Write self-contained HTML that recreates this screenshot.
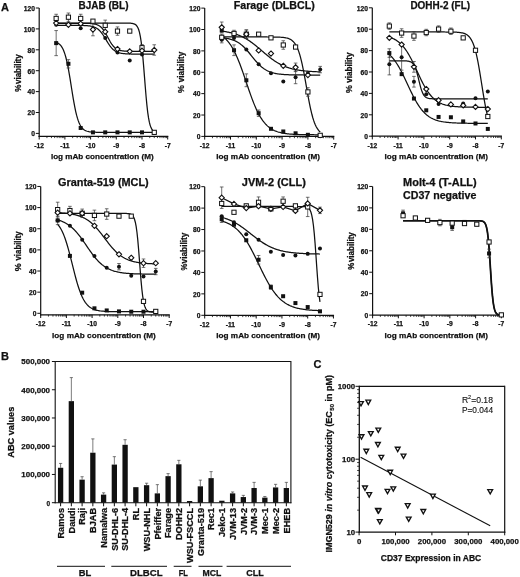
<!DOCTYPE html>
<html><head><meta charset="utf-8"><style>
html,body{margin:0;padding:0;background:#fff;}
svg{display:block;will-change:transform;}
text{font-family:"Liberation Sans", sans-serif;}
</style></head><body>
<svg width="520" height="577" viewBox="0 0 520 577">
<rect width="520" height="577" fill="#fff"/>
<text x="1" y="10.8" font-size="11" font-weight="bold" text-anchor="start" fill="#111" stroke="#111" stroke-width="0.25">A</text>
<text x="1" y="359.6" font-size="11" font-weight="bold" text-anchor="start" fill="#111" stroke="#111" stroke-width="0.25">B</text>
<text x="313.4" y="367.7" font-size="11" font-weight="bold" text-anchor="start" fill="#111" stroke="#111" stroke-width="0.25">C</text>
<line x1="39.2" y1="8" x2="39.2" y2="136.9" stroke="#111" stroke-width="1.2"/>
<line x1="38.6" y1="136.3" x2="168.3" y2="136.3" stroke="#111" stroke-width="1.2"/>
<line x1="35.8" y1="133.4" x2="39.2" y2="133.4" stroke="#111" stroke-width="1.0"/>
<text x="34.9" y="136.2" font-size="6.7" font-weight="bold" text-anchor="end" fill="#111" stroke="#111" stroke-width="0.25">0</text>
<line x1="35.8" y1="112.5" x2="39.2" y2="112.5" stroke="#111" stroke-width="1.0"/>
<text x="34.9" y="115.3" font-size="6.7" font-weight="bold" text-anchor="end" fill="#111" stroke="#111" stroke-width="0.25">20</text>
<line x1="35.8" y1="91.6" x2="39.2" y2="91.6" stroke="#111" stroke-width="1.0"/>
<text x="34.9" y="94.4" font-size="6.7" font-weight="bold" text-anchor="end" fill="#111" stroke="#111" stroke-width="0.25">40</text>
<line x1="35.8" y1="70.7" x2="39.2" y2="70.7" stroke="#111" stroke-width="1.0"/>
<text x="34.9" y="73.5" font-size="6.7" font-weight="bold" text-anchor="end" fill="#111" stroke="#111" stroke-width="0.25">60</text>
<line x1="35.8" y1="49.8" x2="39.2" y2="49.8" stroke="#111" stroke-width="1.0"/>
<text x="34.9" y="52.6" font-size="6.7" font-weight="bold" text-anchor="end" fill="#111" stroke="#111" stroke-width="0.25">80</text>
<line x1="35.8" y1="28.9" x2="39.2" y2="28.9" stroke="#111" stroke-width="1.0"/>
<text x="34.9" y="31.7" font-size="6.7" font-weight="bold" text-anchor="end" fill="#111" stroke="#111" stroke-width="0.25">100</text>
<line x1="35.8" y1="8" x2="39.2" y2="8" stroke="#111" stroke-width="1.0"/>
<text x="34.9" y="10.8" font-size="6.7" font-weight="bold" text-anchor="end" fill="#111" stroke="#111" stroke-width="0.25">120</text>
<line x1="39.2" y1="136.3" x2="39.2" y2="139.5" stroke="#111" stroke-width="1.0"/>
<text x="39.2" y="148" font-size="6.7" font-weight="bold" text-anchor="middle" fill="#111" stroke="#111" stroke-width="0.25">-12</text>
<line x1="46.94" y1="136.3" x2="46.94" y2="138.1" stroke="#111" stroke-width="0.8"/>
<line x1="51.46" y1="136.3" x2="51.46" y2="138.1" stroke="#111" stroke-width="0.8"/>
<line x1="54.67" y1="136.3" x2="54.67" y2="138.1" stroke="#111" stroke-width="0.8"/>
<line x1="57.16" y1="136.3" x2="57.16" y2="138.1" stroke="#111" stroke-width="0.8"/>
<line x1="59.2" y1="136.3" x2="59.2" y2="138.1" stroke="#111" stroke-width="0.8"/>
<line x1="60.92" y1="136.3" x2="60.92" y2="138.1" stroke="#111" stroke-width="0.8"/>
<line x1="62.41" y1="136.3" x2="62.41" y2="138.1" stroke="#111" stroke-width="0.8"/>
<line x1="63.72" y1="136.3" x2="63.72" y2="138.1" stroke="#111" stroke-width="0.8"/>
<line x1="64.9" y1="136.3" x2="64.9" y2="139.5" stroke="#111" stroke-width="1.0"/>
<text x="64.9" y="148" font-size="6.7" font-weight="bold" text-anchor="middle" fill="#111" stroke="#111" stroke-width="0.25">-11</text>
<line x1="72.64" y1="136.3" x2="72.64" y2="138.1" stroke="#111" stroke-width="0.8"/>
<line x1="77.16" y1="136.3" x2="77.16" y2="138.1" stroke="#111" stroke-width="0.8"/>
<line x1="80.37" y1="136.3" x2="80.37" y2="138.1" stroke="#111" stroke-width="0.8"/>
<line x1="82.86" y1="136.3" x2="82.86" y2="138.1" stroke="#111" stroke-width="0.8"/>
<line x1="84.9" y1="136.3" x2="84.9" y2="138.1" stroke="#111" stroke-width="0.8"/>
<line x1="86.62" y1="136.3" x2="86.62" y2="138.1" stroke="#111" stroke-width="0.8"/>
<line x1="88.11" y1="136.3" x2="88.11" y2="138.1" stroke="#111" stroke-width="0.8"/>
<line x1="89.42" y1="136.3" x2="89.42" y2="138.1" stroke="#111" stroke-width="0.8"/>
<line x1="90.6" y1="136.3" x2="90.6" y2="139.5" stroke="#111" stroke-width="1.0"/>
<text x="90.6" y="148" font-size="6.7" font-weight="bold" text-anchor="middle" fill="#111" stroke="#111" stroke-width="0.25">-10</text>
<line x1="98.34" y1="136.3" x2="98.34" y2="138.1" stroke="#111" stroke-width="0.8"/>
<line x1="102.86" y1="136.3" x2="102.86" y2="138.1" stroke="#111" stroke-width="0.8"/>
<line x1="106.07" y1="136.3" x2="106.07" y2="138.1" stroke="#111" stroke-width="0.8"/>
<line x1="108.56" y1="136.3" x2="108.56" y2="138.1" stroke="#111" stroke-width="0.8"/>
<line x1="110.6" y1="136.3" x2="110.6" y2="138.1" stroke="#111" stroke-width="0.8"/>
<line x1="112.32" y1="136.3" x2="112.32" y2="138.1" stroke="#111" stroke-width="0.8"/>
<line x1="113.81" y1="136.3" x2="113.81" y2="138.1" stroke="#111" stroke-width="0.8"/>
<line x1="115.12" y1="136.3" x2="115.12" y2="138.1" stroke="#111" stroke-width="0.8"/>
<line x1="116.3" y1="136.3" x2="116.3" y2="139.5" stroke="#111" stroke-width="1.0"/>
<text x="116.3" y="148" font-size="6.7" font-weight="bold" text-anchor="middle" fill="#111" stroke="#111" stroke-width="0.25">-9</text>
<line x1="124.04" y1="136.3" x2="124.04" y2="138.1" stroke="#111" stroke-width="0.8"/>
<line x1="128.56" y1="136.3" x2="128.56" y2="138.1" stroke="#111" stroke-width="0.8"/>
<line x1="131.77" y1="136.3" x2="131.77" y2="138.1" stroke="#111" stroke-width="0.8"/>
<line x1="134.26" y1="136.3" x2="134.26" y2="138.1" stroke="#111" stroke-width="0.8"/>
<line x1="136.3" y1="136.3" x2="136.3" y2="138.1" stroke="#111" stroke-width="0.8"/>
<line x1="138.02" y1="136.3" x2="138.02" y2="138.1" stroke="#111" stroke-width="0.8"/>
<line x1="139.51" y1="136.3" x2="139.51" y2="138.1" stroke="#111" stroke-width="0.8"/>
<line x1="140.82" y1="136.3" x2="140.82" y2="138.1" stroke="#111" stroke-width="0.8"/>
<line x1="142" y1="136.3" x2="142" y2="139.5" stroke="#111" stroke-width="1.0"/>
<text x="142" y="148" font-size="6.7" font-weight="bold" text-anchor="middle" fill="#111" stroke="#111" stroke-width="0.25">-8</text>
<line x1="149.74" y1="136.3" x2="149.74" y2="138.1" stroke="#111" stroke-width="0.8"/>
<line x1="154.26" y1="136.3" x2="154.26" y2="138.1" stroke="#111" stroke-width="0.8"/>
<line x1="157.47" y1="136.3" x2="157.47" y2="138.1" stroke="#111" stroke-width="0.8"/>
<line x1="159.96" y1="136.3" x2="159.96" y2="138.1" stroke="#111" stroke-width="0.8"/>
<line x1="162" y1="136.3" x2="162" y2="138.1" stroke="#111" stroke-width="0.8"/>
<line x1="163.72" y1="136.3" x2="163.72" y2="138.1" stroke="#111" stroke-width="0.8"/>
<line x1="165.21" y1="136.3" x2="165.21" y2="138.1" stroke="#111" stroke-width="0.8"/>
<line x1="166.52" y1="136.3" x2="166.52" y2="138.1" stroke="#111" stroke-width="0.8"/>
<line x1="167.7" y1="136.3" x2="167.7" y2="139.5" stroke="#111" stroke-width="1.0"/>
<text x="167.7" y="148" font-size="6.7" font-weight="bold" text-anchor="middle" fill="#111" stroke="#111" stroke-width="0.25">-7</text>
<text x="103.5" y="8.8" font-size="10.0" font-weight="bold" text-anchor="middle" fill="#111" textLength="50" lengthAdjust="spacingAndGlyphs" stroke="#111" stroke-width="0.25">BJAB (BL)</text>
<text x="102.25" y="158.7" font-size="7.8" font-weight="bold" text-anchor="middle" fill="#111" textLength="102.7" lengthAdjust="spacingAndGlyphs" stroke="#111" stroke-width="0.25">log mAb concentration (M)</text>
<text x="21.1" y="69.15" font-size="8.3" font-weight="bold" text-anchor="middle" fill="#111" textLength="29.7" lengthAdjust="spacingAndGlyphs" transform="rotate(-90 21.1 69.15)" stroke="#111" stroke-width="0.25">viability</text>
<text x="21.1" y="88.25" font-size="8.3" font-weight="bold" text-anchor="middle" fill="#111" textLength="7.2" lengthAdjust="spacingAndGlyphs" transform="rotate(-90 21.1 88.25)" stroke="#111" stroke-width="0.25">%</text>
<path d="M56.16 23.05 L56.98 23.05 L57.8 23.05 L58.61 23.05 L59.43 23.05 L60.25 23.05 L61.07 23.05 L61.88 23.05 L62.7 23.05 L63.52 23.05 L64.34 23.05 L65.15 23.05 L65.97 23.05 L66.79 23.05 L67.61 23.05 L68.42 23.05 L69.24 23.05 L70.06 23.05 L70.88 23.05 L71.69 23.05 L72.51 23.05 L73.33 23.05 L74.15 23.05 L74.96 23.05 L75.78 23.05 L76.6 23.05 L77.42 23.05 L78.23 23.05 L79.05 23.05 L79.87 23.05 L80.69 23.05 L81.5 23.05 L82.32 23.05 L83.14 23.05 L83.96 23.05 L84.77 23.05 L85.59 23.05 L86.41 23.05 L87.23 23.05 L88.04 23.05 L88.86 23.05 L89.68 23.05 L90.5 23.05 L91.31 23.05 L92.13 23.05 L92.95 23.05 L93.77 23.05 L94.58 23.05 L95.4 23.05 L96.22 23.05 L97.04 23.05 L97.85 23.05 L98.67 23.05 L99.49 23.05 L100.31 23.05 L101.12 23.05 L101.94 23.05 L102.76 23.05 L103.58 23.05 L104.39 23.05 L105.21 23.05 L106.03 23.05 L106.85 23.05 L107.66 23.05 L108.48 23.05 L109.3 23.05 L110.12 23.05 L110.93 23.05 L111.75 23.05 L112.57 23.05 L113.39 23.05 L114.2 23.05 L115.02 23.05 L115.84 23.05 L116.66 23.05 L117.47 23.05 L118.29 23.05 L119.11 23.05 L119.92 23.05 L120.74 23.05 L121.56 23.05 L122.38 23.05 L123.19 23.05 L124.01 23.06 L124.83 23.06 L125.65 23.06 L126.46 23.07 L127.28 23.08 L128.1 23.1 L128.92 23.12 L129.73 23.16 L130.55 23.21 L131.37 23.28 L132.19 23.39 L133 23.55 L133.82 23.78 L134.64 24.11 L135.46 24.6 L136.27 25.3 L137.09 26.32 L137.91 27.77 L138.73 29.82 L139.54 32.69 L140.36 36.6 L141.18 41.81 L142 48.49 L142.81 56.68 L143.63 66.15 L144.45 76.42 L145.27 86.8 L146.08 96.57 L146.9 105.17 L147.72 112.3 L148.54 117.93 L149.35 122.2 L150.17 125.35 L150.99 127.62 L151.81 129.23 L152.62 130.36 L153.44 131.14 L154.26 131.69" fill="none" stroke="#111" stroke-width="1.25"/>
<path d="M56.16 25.35 L56.98 25.35 L57.8 25.35 L58.61 25.35 L59.43 25.35 L60.25 25.35 L61.07 25.35 L61.88 25.35 L62.7 25.35 L63.52 25.35 L64.34 25.35 L65.15 25.35 L65.97 25.35 L66.79 25.35 L67.61 25.35 L68.42 25.35 L69.24 25.35 L70.06 25.35 L70.88 25.35 L71.69 25.36 L72.51 25.36 L73.33 25.36 L74.15 25.36 L74.96 25.37 L75.78 25.37 L76.6 25.38 L77.42 25.38 L78.23 25.39 L79.05 25.4 L79.87 25.41 L80.69 25.43 L81.5 25.44 L82.32 25.46 L83.14 25.49 L83.96 25.51 L84.77 25.55 L85.59 25.59 L86.41 25.64 L87.23 25.7 L88.04 25.78 L88.86 25.87 L89.68 25.97 L90.5 26.1 L91.31 26.25 L92.13 26.43 L92.95 26.65 L93.77 26.91 L94.58 27.22 L95.4 27.58 L96.22 28.01 L97.04 28.5 L97.85 29.08 L98.67 29.74 L99.49 30.5 L100.31 31.35 L101.12 32.31 L101.94 33.36 L102.76 34.5 L103.58 35.73 L104.39 37.02 L105.21 38.36 L106.03 39.73 L106.85 41.09 L107.66 42.43 L108.48 43.72 L109.3 44.95 L110.12 46.09 L110.93 47.14 L111.75 48.1 L112.57 48.95 L113.39 49.7 L114.2 50.37 L115.02 50.94 L115.84 51.43 L116.66 51.86 L117.47 52.22 L118.29 52.53 L119.11 52.78 L119.92 53 L120.74 53.18 L121.56 53.33 L122.38 53.46 L123.19 53.57 L124.01 53.66 L124.83 53.73 L125.65 53.79 L126.46 53.84 L127.28 53.88 L128.1 53.92 L128.92 53.95 L129.73 53.97 L130.55 53.99 L131.37 54.01 L132.19 54.02 L133 54.03 L133.82 54.04 L134.64 54.05 L135.46 54.05 L136.27 54.06 L137.09 54.06 L137.91 54.07 L138.73 54.07 L139.54 54.07 L140.36 54.07 L141.18 54.08 L142 54.08 L142.81 54.08 L143.63 54.08 L144.45 54.08 L145.27 54.08 L146.08 54.08 L146.9 54.08 L147.72 54.08 L148.54 54.08 L149.35 54.08 L150.17 54.08 L150.99 54.08 L151.81 54.08 L152.62 54.08 L153.44 54.08 L154.26 54.08" fill="none" stroke="#111" stroke-width="1.25"/>
<path d="M56.16 23.26 L56.98 23.26 L57.8 23.26 L58.61 23.26 L59.43 23.26 L60.25 23.26 L61.07 23.26 L61.88 23.26 L62.7 23.26 L63.52 23.26 L64.34 23.26 L65.15 23.26 L65.97 23.26 L66.79 23.26 L67.61 23.26 L68.42 23.26 L69.24 23.26 L70.06 23.26 L70.88 23.26 L71.69 23.26 L72.51 23.26 L73.33 23.26 L74.15 23.26 L74.96 23.26 L75.78 23.26 L76.6 23.26 L77.42 23.26 L78.23 23.27 L79.05 23.27 L79.87 23.27 L80.69 23.28 L81.5 23.28 L82.32 23.29 L83.14 23.29 L83.96 23.3 L84.77 23.31 L85.59 23.33 L86.41 23.35 L87.23 23.37 L88.04 23.39 L88.86 23.43 L89.68 23.47 L90.5 23.52 L91.31 23.59 L92.13 23.67 L92.95 23.76 L93.77 23.89 L94.58 24.04 L95.4 24.22 L96.22 24.45 L97.04 24.73 L97.85 25.06 L98.67 25.47 L99.49 25.96 L100.31 26.55 L101.12 27.25 L101.94 28.06 L102.76 29 L103.58 30.07 L104.39 31.26 L105.21 32.58 L106.03 33.99 L106.85 35.48 L107.66 37.02 L108.48 38.56 L109.3 40.07 L110.12 41.52 L110.93 42.87 L111.75 44.12 L112.57 45.23 L113.39 46.22 L114.2 47.08 L115.02 47.82 L115.84 48.45 L116.66 48.98 L117.47 49.41 L118.29 49.78 L119.11 50.08 L119.92 50.32 L120.74 50.52 L121.56 50.68 L122.38 50.82 L123.19 50.92 L124.01 51.01 L124.83 51.08 L125.65 51.14 L126.46 51.18 L127.28 51.22 L128.1 51.25 L128.92 51.27 L129.73 51.29 L130.55 51.31 L131.37 51.32 L132.19 51.33 L133 51.34 L133.82 51.34 L134.64 51.35 L135.46 51.35 L136.27 51.35 L137.09 51.36 L137.91 51.36 L138.73 51.36 L139.54 51.36 L140.36 51.36 L141.18 51.36 L142 51.36 L142.81 51.37 L143.63 51.37 L144.45 51.37 L145.27 51.37 L146.08 51.37 L146.9 51.37 L147.72 51.37 L148.54 51.37 L149.35 51.37 L150.17 51.37 L150.99 51.37 L151.81 51.37 L152.62 51.37 L153.44 51.37 L154.26 51.37" fill="none" stroke="#111" stroke-width="1.25"/>
<path d="M56.16 42.25 L56.98 42.59 L57.8 43 L58.61 43.52 L59.43 44.16 L60.25 44.95 L61.07 45.92 L61.88 47.11 L62.7 48.56 L63.52 50.3 L64.34 52.4 L65.15 54.88 L65.97 57.78 L66.79 61.13 L67.61 64.92 L68.42 69.15 L69.24 73.77 L70.06 78.68 L70.88 83.79 L71.69 88.98 L72.51 94.1 L73.33 99.04 L74.15 103.69 L74.96 107.96 L75.78 111.8 L76.6 115.19 L77.42 118.13 L78.23 120.65 L79.05 122.78 L79.87 124.56 L80.69 126.03 L81.5 127.25 L82.32 128.24 L83.14 129.04 L83.96 129.7 L84.77 130.22 L85.59 130.65 L86.41 130.99 L87.23 131.26 L88.04 131.48 L88.86 131.66 L89.68 131.8 L90.5 131.91 L91.31 132 L92.13 132.07 L92.95 132.13 L93.77 132.18 L94.58 132.21 L95.4 132.24 L96.22 132.26 L97.04 132.28 L97.85 132.3 L98.67 132.31 L99.49 132.32 L100.31 132.33 L101.12 132.33 L101.94 132.34 L102.76 132.34 L103.58 132.34 L104.39 132.35 L105.21 132.35 L106.03 132.35 L106.85 132.35 L107.66 132.35 L108.48 132.35 L109.3 132.35 L110.12 132.35 L110.93 132.35 L111.75 132.35 L112.57 132.35 L113.39 132.35 L114.2 132.35 L115.02 132.35 L115.84 132.35 L116.66 132.35 L117.47 132.35 L118.29 132.35 L119.11 132.35 L119.92 132.35 L120.74 132.35 L121.56 132.35 L122.38 132.35 L123.19 132.35 L124.01 132.35 L124.83 132.35 L125.65 132.35 L126.46 132.35 L127.28 132.35 L128.1 132.35 L128.92 132.35 L129.73 132.35 L130.55 132.35 L131.37 132.35 L132.19 132.35 L133 132.35 L133.82 132.35 L134.64 132.35 L135.46 132.35 L136.27 132.35 L137.09 132.35 L137.91 132.35 L138.73 132.35 L139.54 132.35 L140.36 132.35 L141.18 132.35 L142 132.35 L142.81 132.35 L143.63 132.35 L144.45 132.35 L145.27 132.35 L146.08 132.35 L146.9 132.35 L147.72 132.35 L148.54 132.35 L149.35 132.35 L150.17 132.35 L150.99 132.35 L151.81 132.35 L152.62 132.35 L153.44 132.35 L154.26 132.35" fill="none" stroke="#111" stroke-width="1.25"/>
<line x1="56.16" y1="14.27" x2="56.16" y2="22.63" stroke="#333" stroke-width="0.7"/>
<line x1="54.36" y1="14.27" x2="57.96" y2="14.27" stroke="#333" stroke-width="0.7"/>
<line x1="54.36" y1="22.63" x2="57.96" y2="22.63" stroke="#333" stroke-width="0.7"/>
<line x1="68.42" y1="13.02" x2="68.42" y2="21.38" stroke="#333" stroke-width="0.7"/>
<line x1="66.62" y1="13.02" x2="70.22" y2="13.02" stroke="#333" stroke-width="0.7"/>
<line x1="66.62" y1="21.38" x2="70.22" y2="21.38" stroke="#333" stroke-width="0.7"/>
<line x1="80.68" y1="14.27" x2="80.68" y2="22.63" stroke="#333" stroke-width="0.7"/>
<line x1="78.88" y1="14.27" x2="82.48" y2="14.27" stroke="#333" stroke-width="0.7"/>
<line x1="78.88" y1="22.63" x2="82.48" y2="22.63" stroke="#333" stroke-width="0.7"/>
<line x1="105.22" y1="20.12" x2="105.22" y2="30.57" stroke="#333" stroke-width="0.7"/>
<line x1="103.42" y1="20.12" x2="107.02" y2="20.12" stroke="#333" stroke-width="0.7"/>
<line x1="103.42" y1="30.57" x2="107.02" y2="30.57" stroke="#333" stroke-width="0.7"/>
<line x1="117.48" y1="26.91" x2="117.48" y2="35.27" stroke="#333" stroke-width="0.7"/>
<line x1="115.68" y1="26.91" x2="119.28" y2="26.91" stroke="#333" stroke-width="0.7"/>
<line x1="115.68" y1="35.27" x2="119.28" y2="35.27" stroke="#333" stroke-width="0.7"/>
<line x1="142" y1="44.58" x2="142" y2="50.85" stroke="#333" stroke-width="0.7"/>
<line x1="140.2" y1="44.58" x2="143.8" y2="44.58" stroke="#333" stroke-width="0.7"/>
<line x1="140.2" y1="50.85" x2="143.8" y2="50.85" stroke="#333" stroke-width="0.7"/>
<line x1="92.94" y1="23.26" x2="92.94" y2="35.8" stroke="#333" stroke-width="0.7"/>
<line x1="91.14" y1="23.26" x2="94.74" y2="23.26" stroke="#333" stroke-width="0.7"/>
<line x1="91.14" y1="35.8" x2="94.74" y2="35.8" stroke="#333" stroke-width="0.7"/>
<line x1="154.26" y1="44.78" x2="154.26" y2="55.23" stroke="#333" stroke-width="0.7"/>
<line x1="152.46" y1="44.78" x2="156.06" y2="44.78" stroke="#333" stroke-width="0.7"/>
<line x1="152.46" y1="55.23" x2="156.06" y2="55.23" stroke="#333" stroke-width="0.7"/>
<line x1="56.16" y1="30.57" x2="56.16" y2="55.65" stroke="#333" stroke-width="0.7"/>
<line x1="54.36" y1="30.57" x2="57.96" y2="30.57" stroke="#333" stroke-width="0.7"/>
<line x1="54.36" y1="55.65" x2="57.96" y2="55.65" stroke="#333" stroke-width="0.7"/>
<line x1="68.42" y1="59.62" x2="68.42" y2="67.98" stroke="#333" stroke-width="0.7"/>
<line x1="66.62" y1="59.62" x2="70.22" y2="59.62" stroke="#333" stroke-width="0.7"/>
<line x1="66.62" y1="67.98" x2="70.22" y2="67.98" stroke="#333" stroke-width="0.7"/>
<rect x="54.16" y="41.11" width="4.0" height="4.0" fill="#111"/>
<rect x="66.42" y="61.8" width="4.0" height="4.0" fill="#111"/>
<rect x="78.68" y="125.97" width="4.0" height="4.0" fill="#111"/>
<rect x="90.94" y="130.36" width="4.0" height="4.0" fill="#111"/>
<rect x="103.22" y="130.36" width="4.0" height="4.0" fill="#111"/>
<rect x="115.48" y="130.36" width="4.0" height="4.0" fill="#111"/>
<rect x="127.74" y="130.36" width="4.0" height="4.0" fill="#111"/>
<rect x="140" y="130.36" width="4.0" height="4.0" fill="#111"/>
<rect x="152.26" y="130.36" width="4.0" height="4.0" fill="#111"/>
<circle cx="56.16" cy="24.72" r="2.0" fill="#111"/>
<circle cx="68.42" cy="24.72" r="2.0" fill="#111"/>
<circle cx="80.68" cy="28.27" r="2.0" fill="#111"/>
<circle cx="92.94" cy="28.9" r="2.0" fill="#111"/>
<circle cx="105.22" cy="37.99" r="2.0" fill="#111"/>
<circle cx="117.48" cy="52.52" r="2.0" fill="#111"/>
<circle cx="129.74" cy="60.56" r="2.0" fill="#111"/>
<circle cx="142" cy="54.61" r="2.0" fill="#111"/>
<rect x="54.06" y="16.35" width="4.2" height="4.2" fill="#fff" stroke="#111" stroke-width="1"/>
<rect x="66.32" y="15.1" width="4.2" height="4.2" fill="#fff" stroke="#111" stroke-width="1"/>
<rect x="78.58" y="16.35" width="4.2" height="4.2" fill="#fff" stroke="#111" stroke-width="1"/>
<rect x="90.84" y="19.07" width="4.2" height="4.2" fill="#fff" stroke="#111" stroke-width="1"/>
<rect x="103.12" y="23.25" width="4.2" height="4.2" fill="#fff" stroke="#111" stroke-width="1"/>
<rect x="115.38" y="28.99" width="4.2" height="4.2" fill="#fff" stroke="#111" stroke-width="1"/>
<rect x="127.64" y="28.99" width="4.2" height="4.2" fill="#fff" stroke="#111" stroke-width="1"/>
<rect x="139.9" y="45.61" width="4.2" height="4.2" fill="#fff" stroke="#111" stroke-width="1"/>
<rect x="152.16" y="130.26" width="4.2" height="4.2" fill="#fff" stroke="#111" stroke-width="1"/>
<path d="M56.16 20.45L58.76 23.05L56.16 25.65L53.56 23.05Z" fill="#fff" stroke="#111" stroke-width="1.1"/>
<path d="M68.42 22.22L71.02 24.82L68.42 27.42L65.82 24.82Z" fill="#fff" stroke="#111" stroke-width="1.1"/>
<path d="M80.68 21.08L83.28 23.68L80.68 26.28L78.08 23.68Z" fill="#fff" stroke="#111" stroke-width="1.1"/>
<path d="M92.94 26.93L95.54 29.53L92.94 32.13L90.34 29.53Z" fill="#fff" stroke="#111" stroke-width="1.1"/>
<path d="M105.22 29.23L107.82 31.83L105.22 34.43L102.62 31.83Z" fill="#fff" stroke="#111" stroke-width="1.1"/>
<path d="M117.48 46.47L120.08 49.07L117.48 51.67L114.88 49.07Z" fill="#fff" stroke="#111" stroke-width="1.1"/>
<path d="M129.74 48.77L132.34 51.37L129.74 53.97L127.14 51.37Z" fill="#fff" stroke="#111" stroke-width="1.1"/>
<path d="M142 48.14L144.6 50.74L142 53.34L139.4 50.74Z" fill="#fff" stroke="#111" stroke-width="1.1"/>
<path d="M154.26 47.41L156.86 50.01L154.26 52.61L151.66 50.01Z" fill="#fff" stroke="#111" stroke-width="1.1"/>
<line x1="204.7" y1="8.12" x2="204.7" y2="137" stroke="#111" stroke-width="1.2"/>
<line x1="204.1" y1="136.4" x2="334.3" y2="136.4" stroke="#111" stroke-width="1.2"/>
<line x1="201.3" y1="136.4" x2="204.7" y2="136.4" stroke="#111" stroke-width="1.0"/>
<text x="200.4" y="139.2" font-size="6.7" font-weight="bold" text-anchor="end" fill="#111" stroke="#111" stroke-width="0.25">0</text>
<line x1="201.3" y1="115.02" x2="204.7" y2="115.02" stroke="#111" stroke-width="1.0"/>
<text x="200.4" y="117.82" font-size="6.7" font-weight="bold" text-anchor="end" fill="#111" stroke="#111" stroke-width="0.25">20</text>
<line x1="201.3" y1="93.64" x2="204.7" y2="93.64" stroke="#111" stroke-width="1.0"/>
<text x="200.4" y="96.44" font-size="6.7" font-weight="bold" text-anchor="end" fill="#111" stroke="#111" stroke-width="0.25">40</text>
<line x1="201.3" y1="72.26" x2="204.7" y2="72.26" stroke="#111" stroke-width="1.0"/>
<text x="200.4" y="75.06" font-size="6.7" font-weight="bold" text-anchor="end" fill="#111" stroke="#111" stroke-width="0.25">60</text>
<line x1="201.3" y1="50.88" x2="204.7" y2="50.88" stroke="#111" stroke-width="1.0"/>
<text x="200.4" y="53.68" font-size="6.7" font-weight="bold" text-anchor="end" fill="#111" stroke="#111" stroke-width="0.25">80</text>
<line x1="201.3" y1="29.5" x2="204.7" y2="29.5" stroke="#111" stroke-width="1.0"/>
<text x="200.4" y="32.3" font-size="6.7" font-weight="bold" text-anchor="end" fill="#111" stroke="#111" stroke-width="0.25">100</text>
<line x1="201.3" y1="8.12" x2="204.7" y2="8.12" stroke="#111" stroke-width="1.0"/>
<text x="200.4" y="10.92" font-size="6.7" font-weight="bold" text-anchor="end" fill="#111" stroke="#111" stroke-width="0.25">120</text>
<line x1="204.7" y1="136.4" x2="204.7" y2="139.6" stroke="#111" stroke-width="1.0"/>
<text x="204.7" y="148.1" font-size="6.7" font-weight="bold" text-anchor="middle" fill="#111" stroke="#111" stroke-width="0.25">-12</text>
<line x1="212.47" y1="136.4" x2="212.47" y2="138.2" stroke="#111" stroke-width="0.8"/>
<line x1="217.01" y1="136.4" x2="217.01" y2="138.2" stroke="#111" stroke-width="0.8"/>
<line x1="220.23" y1="136.4" x2="220.23" y2="138.2" stroke="#111" stroke-width="0.8"/>
<line x1="222.73" y1="136.4" x2="222.73" y2="138.2" stroke="#111" stroke-width="0.8"/>
<line x1="224.78" y1="136.4" x2="224.78" y2="138.2" stroke="#111" stroke-width="0.8"/>
<line x1="226.5" y1="136.4" x2="226.5" y2="138.2" stroke="#111" stroke-width="0.8"/>
<line x1="228" y1="136.4" x2="228" y2="138.2" stroke="#111" stroke-width="0.8"/>
<line x1="229.32" y1="136.4" x2="229.32" y2="138.2" stroke="#111" stroke-width="0.8"/>
<line x1="230.5" y1="136.4" x2="230.5" y2="139.6" stroke="#111" stroke-width="1.0"/>
<text x="230.5" y="148.1" font-size="6.7" font-weight="bold" text-anchor="middle" fill="#111" stroke="#111" stroke-width="0.25">-11</text>
<line x1="238.27" y1="136.4" x2="238.27" y2="138.2" stroke="#111" stroke-width="0.8"/>
<line x1="242.81" y1="136.4" x2="242.81" y2="138.2" stroke="#111" stroke-width="0.8"/>
<line x1="246.03" y1="136.4" x2="246.03" y2="138.2" stroke="#111" stroke-width="0.8"/>
<line x1="248.53" y1="136.4" x2="248.53" y2="138.2" stroke="#111" stroke-width="0.8"/>
<line x1="250.58" y1="136.4" x2="250.58" y2="138.2" stroke="#111" stroke-width="0.8"/>
<line x1="252.3" y1="136.4" x2="252.3" y2="138.2" stroke="#111" stroke-width="0.8"/>
<line x1="253.8" y1="136.4" x2="253.8" y2="138.2" stroke="#111" stroke-width="0.8"/>
<line x1="255.12" y1="136.4" x2="255.12" y2="138.2" stroke="#111" stroke-width="0.8"/>
<line x1="256.3" y1="136.4" x2="256.3" y2="139.6" stroke="#111" stroke-width="1.0"/>
<text x="256.3" y="148.1" font-size="6.7" font-weight="bold" text-anchor="middle" fill="#111" stroke="#111" stroke-width="0.25">-10</text>
<line x1="264.07" y1="136.4" x2="264.07" y2="138.2" stroke="#111" stroke-width="0.8"/>
<line x1="268.61" y1="136.4" x2="268.61" y2="138.2" stroke="#111" stroke-width="0.8"/>
<line x1="271.83" y1="136.4" x2="271.83" y2="138.2" stroke="#111" stroke-width="0.8"/>
<line x1="274.33" y1="136.4" x2="274.33" y2="138.2" stroke="#111" stroke-width="0.8"/>
<line x1="276.38" y1="136.4" x2="276.38" y2="138.2" stroke="#111" stroke-width="0.8"/>
<line x1="278.1" y1="136.4" x2="278.1" y2="138.2" stroke="#111" stroke-width="0.8"/>
<line x1="279.6" y1="136.4" x2="279.6" y2="138.2" stroke="#111" stroke-width="0.8"/>
<line x1="280.92" y1="136.4" x2="280.92" y2="138.2" stroke="#111" stroke-width="0.8"/>
<line x1="282.1" y1="136.4" x2="282.1" y2="139.6" stroke="#111" stroke-width="1.0"/>
<text x="282.1" y="148.1" font-size="6.7" font-weight="bold" text-anchor="middle" fill="#111" stroke="#111" stroke-width="0.25">-9</text>
<line x1="289.87" y1="136.4" x2="289.87" y2="138.2" stroke="#111" stroke-width="0.8"/>
<line x1="294.41" y1="136.4" x2="294.41" y2="138.2" stroke="#111" stroke-width="0.8"/>
<line x1="297.63" y1="136.4" x2="297.63" y2="138.2" stroke="#111" stroke-width="0.8"/>
<line x1="300.13" y1="136.4" x2="300.13" y2="138.2" stroke="#111" stroke-width="0.8"/>
<line x1="302.18" y1="136.4" x2="302.18" y2="138.2" stroke="#111" stroke-width="0.8"/>
<line x1="303.9" y1="136.4" x2="303.9" y2="138.2" stroke="#111" stroke-width="0.8"/>
<line x1="305.4" y1="136.4" x2="305.4" y2="138.2" stroke="#111" stroke-width="0.8"/>
<line x1="306.72" y1="136.4" x2="306.72" y2="138.2" stroke="#111" stroke-width="0.8"/>
<line x1="307.9" y1="136.4" x2="307.9" y2="139.6" stroke="#111" stroke-width="1.0"/>
<text x="307.9" y="148.1" font-size="6.7" font-weight="bold" text-anchor="middle" fill="#111" stroke="#111" stroke-width="0.25">-8</text>
<line x1="315.67" y1="136.4" x2="315.67" y2="138.2" stroke="#111" stroke-width="0.8"/>
<line x1="320.21" y1="136.4" x2="320.21" y2="138.2" stroke="#111" stroke-width="0.8"/>
<line x1="323.43" y1="136.4" x2="323.43" y2="138.2" stroke="#111" stroke-width="0.8"/>
<line x1="325.93" y1="136.4" x2="325.93" y2="138.2" stroke="#111" stroke-width="0.8"/>
<line x1="327.98" y1="136.4" x2="327.98" y2="138.2" stroke="#111" stroke-width="0.8"/>
<line x1="329.7" y1="136.4" x2="329.7" y2="138.2" stroke="#111" stroke-width="0.8"/>
<line x1="331.2" y1="136.4" x2="331.2" y2="138.2" stroke="#111" stroke-width="0.8"/>
<line x1="332.52" y1="136.4" x2="332.52" y2="138.2" stroke="#111" stroke-width="0.8"/>
<line x1="333.7" y1="136.4" x2="333.7" y2="139.6" stroke="#111" stroke-width="1.0"/>
<text x="333.7" y="148.1" font-size="6.7" font-weight="bold" text-anchor="middle" fill="#111" stroke="#111" stroke-width="0.25">-7</text>
<text x="274.3" y="8.7" font-size="10.0" font-weight="bold" text-anchor="middle" fill="#111" textLength="81" lengthAdjust="spacingAndGlyphs" stroke="#111" stroke-width="0.25">Farage (DLBCL)</text>
<text x="268.15" y="158.7" font-size="7.8" font-weight="bold" text-anchor="middle" fill="#111" textLength="103.7" lengthAdjust="spacingAndGlyphs" stroke="#111" stroke-width="0.25">log mAb concentration (M)</text>
<text x="184.4" y="67" font-size="8.3" font-weight="bold" text-anchor="middle" fill="#111" textLength="30.4" lengthAdjust="spacingAndGlyphs" transform="rotate(-90 184.4 67)" stroke="#111" stroke-width="0.25">viability</text>
<text x="184.4" y="89.15" font-size="8.3" font-weight="bold" text-anchor="middle" fill="#111" textLength="7.8" lengthAdjust="spacingAndGlyphs" transform="rotate(-90 184.4 89.15)" stroke="#111" stroke-width="0.25">%</text>
<path d="M221.73 36.98 L222.55 36.98 L223.37 36.98 L224.19 36.98 L225.01 36.98 L225.83 36.98 L226.65 36.98 L227.47 36.98 L228.29 36.98 L229.11 36.98 L229.93 36.98 L230.76 36.98 L231.58 36.98 L232.4 36.98 L233.22 36.98 L234.04 36.98 L234.86 36.98 L235.68 36.98 L236.5 36.98 L237.32 36.98 L238.14 36.98 L238.96 36.98 L239.78 36.98 L240.6 36.98 L241.42 36.98 L242.24 36.98 L243.07 36.98 L243.89 36.98 L244.71 36.98 L245.53 36.98 L246.35 36.98 L247.17 36.98 L247.99 36.98 L248.81 36.98 L249.63 36.98 L250.45 36.98 L251.27 36.98 L252.09 36.98 L252.91 36.98 L253.73 36.98 L254.55 36.98 L255.37 36.98 L256.2 36.98 L257.02 36.98 L257.84 36.98 L258.66 36.98 L259.48 36.98 L260.3 36.99 L261.12 36.99 L261.94 36.99 L262.76 36.99 L263.58 36.99 L264.4 36.99 L265.22 36.99 L266.04 36.99 L266.86 36.99 L267.68 37 L268.51 37 L269.33 37 L270.15 37.01 L270.97 37.01 L271.79 37.02 L272.61 37.02 L273.43 37.03 L274.25 37.04 L275.07 37.05 L275.89 37.07 L276.71 37.09 L277.53 37.11 L278.35 37.14 L279.17 37.17 L279.99 37.21 L280.82 37.25 L281.64 37.31 L282.46 37.38 L283.28 37.46 L284.1 37.56 L284.92 37.68 L285.74 37.82 L286.56 37.99 L287.38 38.2 L288.2 38.45 L289.02 38.75 L289.84 39.11 L290.66 39.55 L291.48 40.06 L292.3 40.68 L293.12 41.42 L293.95 42.3 L294.77 43.34 L295.59 44.57 L296.41 46 L297.23 47.68 L298.05 49.63 L298.87 51.88 L299.69 54.44 L300.51 57.34 L301.33 60.57 L302.15 64.15 L302.97 68.04 L303.79 72.22 L304.61 76.63 L305.43 81.2 L306.26 85.87 L307.08 90.55 L307.9 95.16 L308.72 99.61 L309.54 103.85 L310.36 107.81 L311.18 111.46 L312 114.78 L312.82 117.76 L313.64 120.4 L314.46 122.71 L315.28 124.73 L316.1 126.47 L316.92 127.96 L317.74 129.24 L318.57 130.32 L319.39 131.23 L320.21 132" fill="none" stroke="#111" stroke-width="1.25"/>
<path d="M221.73 31.12 L222.55 31.23 L223.37 31.34 L224.19 31.46 L225.01 31.59 L225.83 31.72 L226.65 31.87 L227.47 32.02 L228.29 32.18 L229.11 32.35 L229.93 32.53 L230.76 32.72 L231.58 32.92 L232.4 33.14 L233.22 33.36 L234.04 33.6 L234.86 33.85 L235.68 34.11 L236.5 34.39 L237.32 34.69 L238.14 34.99 L238.96 35.32 L239.78 35.66 L240.6 36.01 L241.42 36.38 L242.24 36.77 L243.07 37.18 L243.89 37.6 L244.71 38.05 L245.53 38.51 L246.35 38.98 L247.17 39.48 L247.99 39.99 L248.81 40.52 L249.63 41.07 L250.45 41.63 L251.27 42.22 L252.09 42.81 L252.91 43.42 L253.73 44.05 L254.55 44.69 L255.37 45.34 L256.2 46 L257.02 46.68 L257.84 47.36 L258.66 48.05 L259.48 48.74 L260.3 49.44 L261.12 50.14 L261.94 50.85 L262.76 51.55 L263.58 52.26 L264.4 52.96 L265.22 53.65 L266.04 54.34 L266.86 55.02 L267.68 55.7 L268.51 56.36 L269.33 57.01 L270.15 57.65 L270.97 58.28 L271.79 58.89 L272.61 59.49 L273.43 60.07 L274.25 60.64 L275.07 61.19 L275.89 61.72 L276.71 62.24 L277.53 62.73 L278.35 63.21 L279.17 63.67 L279.99 64.12 L280.82 64.54 L281.64 64.95 L282.46 65.34 L283.28 65.72 L284.1 66.07 L284.92 66.41 L285.74 66.74 L286.56 67.05 L287.38 67.34 L288.2 67.62 L289.02 67.89 L289.84 68.14 L290.66 68.38 L291.48 68.6 L292.3 68.82 L293.12 69.02 L293.95 69.21 L294.77 69.4 L295.59 69.57 L296.41 69.73 L297.23 69.88 L298.05 70.02 L298.87 70.16 L299.69 70.29 L300.51 70.41 L301.33 70.52 L302.15 70.63 L302.97 70.73 L303.79 70.82 L304.61 70.91 L305.43 71 L306.26 71.07 L307.08 71.15 L307.9 71.22 L308.72 71.28 L309.54 71.34 L310.36 71.4 L311.18 71.45 L312 71.5 L312.82 71.55 L313.64 71.6 L314.46 71.64 L315.28 71.68 L316.1 71.71 L316.92 71.75 L317.74 71.78 L318.57 71.81 L319.39 71.84 L320.21 71.87" fill="none" stroke="#111" stroke-width="1.25"/>
<path d="M221.73 37.72 L222.55 37.8 L223.37 37.89 L224.19 37.99 L225.01 38.1 L225.83 38.23 L226.65 38.36 L227.47 38.51 L228.29 38.68 L229.11 38.86 L229.93 39.06 L230.76 39.29 L231.58 39.53 L232.4 39.8 L233.22 40.09 L234.04 40.42 L234.86 40.77 L235.68 41.15 L236.5 41.57 L237.32 42.02 L238.14 42.51 L238.96 43.04 L239.78 43.6 L240.6 44.21 L241.42 44.87 L242.24 45.56 L243.07 46.3 L243.89 47.07 L244.71 47.89 L245.53 48.75 L246.35 49.64 L247.17 50.57 L247.99 51.52 L248.81 52.5 L249.63 53.5 L250.45 54.51 L251.27 55.53 L252.09 56.56 L252.91 57.58 L253.73 58.59 L254.55 59.59 L255.37 60.56 L256.2 61.52 L257.02 62.44 L257.84 63.33 L258.66 64.18 L259.48 65 L260.3 65.77 L261.12 66.51 L261.94 67.2 L262.76 67.85 L263.58 68.46 L264.4 69.02 L265.22 69.55 L266.04 70.03 L266.86 70.48 L267.68 70.9 L268.51 71.28 L269.33 71.63 L270.15 71.95 L270.97 72.24 L271.79 72.51 L272.61 72.75 L273.43 72.97 L274.25 73.17 L275.07 73.35 L275.89 73.52 L276.71 73.67 L277.53 73.8 L278.35 73.93 L279.17 74.04 L279.99 74.14 L280.82 74.23 L281.64 74.31 L282.46 74.38 L283.28 74.45 L284.1 74.51 L284.92 74.56 L285.74 74.61 L286.56 74.65 L287.38 74.69 L288.2 74.73 L289.02 74.76 L289.84 74.79 L290.66 74.81 L291.48 74.84 L292.3 74.86 L293.12 74.88 L293.95 74.89 L294.77 74.91 L295.59 74.92 L296.41 74.93 L297.23 74.94 L298.05 74.95 L298.87 74.96 L299.69 74.97 L300.51 74.98 L301.33 74.98 L302.15 74.99 L302.97 74.99 L303.79 75 L304.61 75 L305.43 75.01 L306.26 75.01 L307.08 75.01 L307.9 75.02 L308.72 75.02 L309.54 75.02 L310.36 75.02 L311.18 75.02 L312 75.03 L312.82 75.03 L313.64 75.03 L314.46 75.03 L315.28 75.03 L316.1 75.03 L316.92 75.03 L317.74 75.03 L318.57 75.03 L319.39 75.03 L320.21 75.03" fill="none" stroke="#111" stroke-width="1.25"/>
<path d="M221.73 35.79 L222.55 36.36 L223.37 36.97 L224.19 37.64 L225.01 38.36 L225.83 39.14 L226.65 39.98 L227.47 40.88 L228.29 41.85 L229.11 42.9 L229.93 44.01 L230.76 45.21 L231.58 46.48 L232.4 47.84 L233.22 49.28 L234.04 50.8 L234.86 52.41 L235.68 54.11 L236.5 55.89 L237.32 57.76 L238.14 59.71 L238.96 61.74 L239.78 63.84 L240.6 66 L241.42 68.24 L242.24 70.52 L243.07 72.85 L243.89 75.23 L244.71 77.63 L245.53 80.04 L246.35 82.47 L247.17 84.9 L247.99 87.31 L248.81 89.71 L249.63 92.07 L250.45 94.39 L251.27 96.66 L252.09 98.88 L252.91 101.03 L253.73 103.11 L254.55 105.12 L255.37 107.04 L256.2 108.89 L257.02 110.65 L257.84 112.32 L258.66 113.91 L259.48 115.41 L260.3 116.83 L261.12 118.16 L261.94 119.42 L262.76 120.59 L263.58 121.68 L264.4 122.71 L265.22 123.66 L266.04 124.55 L266.86 125.37 L267.68 126.13 L268.51 126.84 L269.33 127.49 L270.15 128.09 L270.97 128.65 L271.79 129.16 L272.61 129.64 L273.43 130.07 L274.25 130.47 L275.07 130.84 L275.89 131.17 L276.71 131.48 L277.53 131.77 L278.35 132.03 L279.17 132.27 L279.99 132.48 L280.82 132.68 L281.64 132.87 L282.46 133.03 L283.28 133.19 L284.1 133.33 L284.92 133.45 L285.74 133.57 L286.56 133.68 L287.38 133.78 L288.2 133.86 L289.02 133.95 L289.84 134.02 L290.66 134.09 L291.48 134.15 L292.3 134.21 L293.12 134.26 L293.95 134.31 L294.77 134.35 L295.59 134.39 L296.41 134.42 L297.23 134.46 L298.05 134.49 L298.87 134.51 L299.69 134.54 L300.51 134.56 L301.33 134.58 L302.15 134.6 L302.97 134.62 L303.79 134.63 L304.61 134.65 L305.43 134.66 L306.26 134.67 L307.08 134.68 L307.9 134.69 L308.72 134.7 L309.54 134.71 L310.36 134.72 L311.18 134.73 L312 134.73 L312.82 134.74 L313.64 134.74 L314.46 134.75 L315.28 134.75 L316.1 134.76 L316.92 134.76 L317.74 134.76 L318.57 134.77 L319.39 134.77 L320.21 134.77" fill="none" stroke="#111" stroke-width="1.25"/>
<line x1="221.73" y1="34.1" x2="221.73" y2="40.51" stroke="#333" stroke-width="0.7"/>
<line x1="219.93" y1="34.1" x2="223.53" y2="34.1" stroke="#333" stroke-width="0.7"/>
<line x1="219.93" y1="40.51" x2="223.53" y2="40.51" stroke="#333" stroke-width="0.7"/>
<line x1="234.03" y1="30.25" x2="234.03" y2="36.66" stroke="#333" stroke-width="0.7"/>
<line x1="232.23" y1="30.25" x2="235.83" y2="30.25" stroke="#333" stroke-width="0.7"/>
<line x1="232.23" y1="36.66" x2="235.83" y2="36.66" stroke="#333" stroke-width="0.7"/>
<line x1="246.34" y1="29.93" x2="246.34" y2="38.48" stroke="#333" stroke-width="0.7"/>
<line x1="244.54" y1="29.93" x2="248.14" y2="29.93" stroke="#333" stroke-width="0.7"/>
<line x1="244.54" y1="38.48" x2="248.14" y2="38.48" stroke="#333" stroke-width="0.7"/>
<line x1="283.29" y1="40.72" x2="283.29" y2="49.28" stroke="#333" stroke-width="0.7"/>
<line x1="281.49" y1="40.72" x2="285.09" y2="40.72" stroke="#333" stroke-width="0.7"/>
<line x1="281.49" y1="49.28" x2="285.09" y2="49.28" stroke="#333" stroke-width="0.7"/>
<line x1="307.9" y1="87.65" x2="307.9" y2="96.21" stroke="#333" stroke-width="0.7"/>
<line x1="306.1" y1="87.65" x2="309.7" y2="87.65" stroke="#333" stroke-width="0.7"/>
<line x1="306.1" y1="96.21" x2="309.7" y2="96.21" stroke="#333" stroke-width="0.7"/>
<line x1="221.73" y1="22.02" x2="221.73" y2="32.71" stroke="#333" stroke-width="0.7"/>
<line x1="219.93" y1="22.02" x2="223.53" y2="22.02" stroke="#333" stroke-width="0.7"/>
<line x1="219.93" y1="32.71" x2="223.53" y2="32.71" stroke="#333" stroke-width="0.7"/>
<line x1="246.34" y1="29.93" x2="246.34" y2="38.48" stroke="#333" stroke-width="0.7"/>
<line x1="244.54" y1="29.93" x2="248.14" y2="29.93" stroke="#333" stroke-width="0.7"/>
<line x1="244.54" y1="38.48" x2="248.14" y2="38.48" stroke="#333" stroke-width="0.7"/>
<line x1="295.59" y1="63.07" x2="295.59" y2="71.62" stroke="#333" stroke-width="0.7"/>
<line x1="293.79" y1="63.07" x2="297.39" y2="63.07" stroke="#333" stroke-width="0.7"/>
<line x1="293.79" y1="71.62" x2="297.39" y2="71.62" stroke="#333" stroke-width="0.7"/>
<line x1="221.73" y1="36.45" x2="221.73" y2="42.86" stroke="#333" stroke-width="0.7"/>
<line x1="219.93" y1="36.45" x2="223.53" y2="36.45" stroke="#333" stroke-width="0.7"/>
<line x1="219.93" y1="42.86" x2="223.53" y2="42.86" stroke="#333" stroke-width="0.7"/>
<line x1="295.59" y1="70.87" x2="295.59" y2="83.7" stroke="#333" stroke-width="0.7"/>
<line x1="293.79" y1="70.87" x2="297.39" y2="70.87" stroke="#333" stroke-width="0.7"/>
<line x1="293.79" y1="83.7" x2="297.39" y2="83.7" stroke="#333" stroke-width="0.7"/>
<line x1="320.21" y1="66.38" x2="320.21" y2="72.79" stroke="#333" stroke-width="0.7"/>
<line x1="318.41" y1="66.38" x2="322.01" y2="66.38" stroke="#333" stroke-width="0.7"/>
<line x1="318.41" y1="72.79" x2="322.01" y2="72.79" stroke="#333" stroke-width="0.7"/>
<line x1="234.03" y1="44.89" x2="234.03" y2="55.58" stroke="#333" stroke-width="0.7"/>
<line x1="232.23" y1="44.89" x2="235.83" y2="44.89" stroke="#333" stroke-width="0.7"/>
<line x1="232.23" y1="55.58" x2="235.83" y2="55.58" stroke="#333" stroke-width="0.7"/>
<line x1="246.34" y1="73.86" x2="246.34" y2="86.69" stroke="#333" stroke-width="0.7"/>
<line x1="244.54" y1="73.86" x2="248.14" y2="73.86" stroke="#333" stroke-width="0.7"/>
<line x1="244.54" y1="86.69" x2="248.14" y2="86.69" stroke="#333" stroke-width="0.7"/>
<line x1="258.65" y1="110" x2="258.65" y2="116.41" stroke="#333" stroke-width="0.7"/>
<line x1="256.85" y1="110" x2="260.45" y2="110" stroke="#333" stroke-width="0.7"/>
<line x1="256.85" y1="116.41" x2="260.45" y2="116.41" stroke="#333" stroke-width="0.7"/>
<rect x="219.73" y="28.36" width="4.0" height="4.0" fill="#111"/>
<rect x="232.03" y="48.24" width="4.0" height="4.0" fill="#111"/>
<rect x="244.34" y="78.28" width="4.0" height="4.0" fill="#111"/>
<rect x="256.65" y="111.2" width="4.0" height="4.0" fill="#111"/>
<rect x="268.98" y="126.81" width="4.0" height="4.0" fill="#111"/>
<rect x="281.29" y="129.48" width="4.0" height="4.0" fill="#111"/>
<rect x="293.59" y="131.3" width="4.0" height="4.0" fill="#111"/>
<rect x="305.9" y="132.8" width="4.0" height="4.0" fill="#111"/>
<rect x="318.21" y="133.33" width="4.0" height="4.0" fill="#111"/>
<circle cx="221.73" cy="39.66" r="2.0" fill="#111"/>
<circle cx="234.03" cy="38.05" r="2.0" fill="#111"/>
<circle cx="246.34" cy="49.6" r="2.0" fill="#111"/>
<circle cx="258.65" cy="64.24" r="2.0" fill="#111"/>
<circle cx="270.98" cy="73.22" r="2.0" fill="#111"/>
<circle cx="283.29" cy="81.45" r="2.0" fill="#111"/>
<circle cx="295.59" cy="77.28" r="2.0" fill="#111"/>
<circle cx="307.9" cy="73.22" r="2.0" fill="#111"/>
<circle cx="320.21" cy="69.59" r="2.0" fill="#111"/>
<rect x="219.63" y="35.2" width="4.2" height="4.2" fill="#fff" stroke="#111" stroke-width="1"/>
<rect x="231.93" y="31.36" width="4.2" height="4.2" fill="#fff" stroke="#111" stroke-width="1"/>
<rect x="244.24" y="32.1" width="4.2" height="4.2" fill="#fff" stroke="#111" stroke-width="1"/>
<rect x="256.55" y="32.1" width="4.2" height="4.2" fill="#fff" stroke="#111" stroke-width="1"/>
<rect x="268.88" y="35.74" width="4.2" height="4.2" fill="#fff" stroke="#111" stroke-width="1"/>
<rect x="281.19" y="42.9" width="4.2" height="4.2" fill="#fff" stroke="#111" stroke-width="1"/>
<rect x="293.49" y="44.93" width="4.2" height="4.2" fill="#fff" stroke="#111" stroke-width="1"/>
<rect x="305.8" y="89.83" width="4.2" height="4.2" fill="#fff" stroke="#111" stroke-width="1"/>
<rect x="318.11" y="133.23" width="4.2" height="4.2" fill="#fff" stroke="#111" stroke-width="1"/>
<path d="M221.73 24.76L224.33 27.36L221.73 29.96L219.13 27.36Z" fill="#fff" stroke="#111" stroke-width="1.1"/>
<path d="M246.34 31.6L248.94 34.2L246.34 36.8L243.74 34.2Z" fill="#fff" stroke="#111" stroke-width="1.1"/>
<path d="M258.65 47.85L261.25 50.45L258.65 53.05L256.05 50.45Z" fill="#fff" stroke="#111" stroke-width="1.1"/>
<path d="M270.98 50.95L273.58 53.55L270.98 56.15L268.38 53.55Z" fill="#fff" stroke="#111" stroke-width="1.1"/>
<path d="M283.29 63.25L285.89 65.85L283.29 68.45L280.69 65.85Z" fill="#fff" stroke="#111" stroke-width="1.1"/>
<path d="M295.59 64.74L298.19 67.34L295.59 69.94L292.99 67.34Z" fill="#fff" stroke="#111" stroke-width="1.1"/>
<path d="M307.9 72.44L310.5 75.04L307.9 77.64L305.3 75.04Z" fill="#fff" stroke="#111" stroke-width="1.1"/>
<line x1="372.3" y1="7.8" x2="372.3" y2="136.8" stroke="#111" stroke-width="1.2"/>
<line x1="371.7" y1="136.2" x2="501.9" y2="136.2" stroke="#111" stroke-width="1.2"/>
<line x1="368.9" y1="136.2" x2="372.3" y2="136.2" stroke="#111" stroke-width="1.0"/>
<text x="368" y="139" font-size="6.7" font-weight="bold" text-anchor="end" fill="#111" stroke="#111" stroke-width="0.25">0</text>
<line x1="368.9" y1="114.8" x2="372.3" y2="114.8" stroke="#111" stroke-width="1.0"/>
<text x="368" y="117.6" font-size="6.7" font-weight="bold" text-anchor="end" fill="#111" stroke="#111" stroke-width="0.25">20</text>
<line x1="368.9" y1="93.4" x2="372.3" y2="93.4" stroke="#111" stroke-width="1.0"/>
<text x="368" y="96.2" font-size="6.7" font-weight="bold" text-anchor="end" fill="#111" stroke="#111" stroke-width="0.25">40</text>
<line x1="368.9" y1="72" x2="372.3" y2="72" stroke="#111" stroke-width="1.0"/>
<text x="368" y="74.8" font-size="6.7" font-weight="bold" text-anchor="end" fill="#111" stroke="#111" stroke-width="0.25">60</text>
<line x1="368.9" y1="50.6" x2="372.3" y2="50.6" stroke="#111" stroke-width="1.0"/>
<text x="368" y="53.4" font-size="6.7" font-weight="bold" text-anchor="end" fill="#111" stroke="#111" stroke-width="0.25">80</text>
<line x1="368.9" y1="29.2" x2="372.3" y2="29.2" stroke="#111" stroke-width="1.0"/>
<text x="368" y="32" font-size="6.7" font-weight="bold" text-anchor="end" fill="#111" stroke="#111" stroke-width="0.25">100</text>
<line x1="368.9" y1="7.8" x2="372.3" y2="7.8" stroke="#111" stroke-width="1.0"/>
<text x="368" y="10.6" font-size="6.7" font-weight="bold" text-anchor="end" fill="#111" stroke="#111" stroke-width="0.25">120</text>
<line x1="372.3" y1="136.2" x2="372.3" y2="139.4" stroke="#111" stroke-width="1.0"/>
<text x="372.3" y="147.9" font-size="6.7" font-weight="bold" text-anchor="middle" fill="#111" stroke="#111" stroke-width="0.25">-12</text>
<line x1="380.07" y1="136.2" x2="380.07" y2="138" stroke="#111" stroke-width="0.8"/>
<line x1="384.61" y1="136.2" x2="384.61" y2="138" stroke="#111" stroke-width="0.8"/>
<line x1="387.83" y1="136.2" x2="387.83" y2="138" stroke="#111" stroke-width="0.8"/>
<line x1="390.33" y1="136.2" x2="390.33" y2="138" stroke="#111" stroke-width="0.8"/>
<line x1="392.38" y1="136.2" x2="392.38" y2="138" stroke="#111" stroke-width="0.8"/>
<line x1="394.1" y1="136.2" x2="394.1" y2="138" stroke="#111" stroke-width="0.8"/>
<line x1="395.6" y1="136.2" x2="395.6" y2="138" stroke="#111" stroke-width="0.8"/>
<line x1="396.92" y1="136.2" x2="396.92" y2="138" stroke="#111" stroke-width="0.8"/>
<line x1="398.1" y1="136.2" x2="398.1" y2="139.4" stroke="#111" stroke-width="1.0"/>
<text x="398.1" y="147.9" font-size="6.7" font-weight="bold" text-anchor="middle" fill="#111" stroke="#111" stroke-width="0.25">-11</text>
<line x1="405.87" y1="136.2" x2="405.87" y2="138" stroke="#111" stroke-width="0.8"/>
<line x1="410.41" y1="136.2" x2="410.41" y2="138" stroke="#111" stroke-width="0.8"/>
<line x1="413.63" y1="136.2" x2="413.63" y2="138" stroke="#111" stroke-width="0.8"/>
<line x1="416.13" y1="136.2" x2="416.13" y2="138" stroke="#111" stroke-width="0.8"/>
<line x1="418.18" y1="136.2" x2="418.18" y2="138" stroke="#111" stroke-width="0.8"/>
<line x1="419.9" y1="136.2" x2="419.9" y2="138" stroke="#111" stroke-width="0.8"/>
<line x1="421.4" y1="136.2" x2="421.4" y2="138" stroke="#111" stroke-width="0.8"/>
<line x1="422.72" y1="136.2" x2="422.72" y2="138" stroke="#111" stroke-width="0.8"/>
<line x1="423.9" y1="136.2" x2="423.9" y2="139.4" stroke="#111" stroke-width="1.0"/>
<text x="423.9" y="147.9" font-size="6.7" font-weight="bold" text-anchor="middle" fill="#111" stroke="#111" stroke-width="0.25">-10</text>
<line x1="431.67" y1="136.2" x2="431.67" y2="138" stroke="#111" stroke-width="0.8"/>
<line x1="436.21" y1="136.2" x2="436.21" y2="138" stroke="#111" stroke-width="0.8"/>
<line x1="439.43" y1="136.2" x2="439.43" y2="138" stroke="#111" stroke-width="0.8"/>
<line x1="441.93" y1="136.2" x2="441.93" y2="138" stroke="#111" stroke-width="0.8"/>
<line x1="443.98" y1="136.2" x2="443.98" y2="138" stroke="#111" stroke-width="0.8"/>
<line x1="445.7" y1="136.2" x2="445.7" y2="138" stroke="#111" stroke-width="0.8"/>
<line x1="447.2" y1="136.2" x2="447.2" y2="138" stroke="#111" stroke-width="0.8"/>
<line x1="448.52" y1="136.2" x2="448.52" y2="138" stroke="#111" stroke-width="0.8"/>
<line x1="449.7" y1="136.2" x2="449.7" y2="139.4" stroke="#111" stroke-width="1.0"/>
<text x="449.7" y="147.9" font-size="6.7" font-weight="bold" text-anchor="middle" fill="#111" stroke="#111" stroke-width="0.25">-9</text>
<line x1="457.47" y1="136.2" x2="457.47" y2="138" stroke="#111" stroke-width="0.8"/>
<line x1="462.01" y1="136.2" x2="462.01" y2="138" stroke="#111" stroke-width="0.8"/>
<line x1="465.23" y1="136.2" x2="465.23" y2="138" stroke="#111" stroke-width="0.8"/>
<line x1="467.73" y1="136.2" x2="467.73" y2="138" stroke="#111" stroke-width="0.8"/>
<line x1="469.78" y1="136.2" x2="469.78" y2="138" stroke="#111" stroke-width="0.8"/>
<line x1="471.5" y1="136.2" x2="471.5" y2="138" stroke="#111" stroke-width="0.8"/>
<line x1="473" y1="136.2" x2="473" y2="138" stroke="#111" stroke-width="0.8"/>
<line x1="474.32" y1="136.2" x2="474.32" y2="138" stroke="#111" stroke-width="0.8"/>
<line x1="475.5" y1="136.2" x2="475.5" y2="139.4" stroke="#111" stroke-width="1.0"/>
<text x="475.5" y="147.9" font-size="6.7" font-weight="bold" text-anchor="middle" fill="#111" stroke="#111" stroke-width="0.25">-8</text>
<line x1="483.27" y1="136.2" x2="483.27" y2="138" stroke="#111" stroke-width="0.8"/>
<line x1="487.81" y1="136.2" x2="487.81" y2="138" stroke="#111" stroke-width="0.8"/>
<line x1="491.03" y1="136.2" x2="491.03" y2="138" stroke="#111" stroke-width="0.8"/>
<line x1="493.53" y1="136.2" x2="493.53" y2="138" stroke="#111" stroke-width="0.8"/>
<line x1="495.58" y1="136.2" x2="495.58" y2="138" stroke="#111" stroke-width="0.8"/>
<line x1="497.3" y1="136.2" x2="497.3" y2="138" stroke="#111" stroke-width="0.8"/>
<line x1="498.8" y1="136.2" x2="498.8" y2="138" stroke="#111" stroke-width="0.8"/>
<line x1="500.12" y1="136.2" x2="500.12" y2="138" stroke="#111" stroke-width="0.8"/>
<line x1="501.3" y1="136.2" x2="501.3" y2="139.4" stroke="#111" stroke-width="1.0"/>
<text x="501.3" y="147.9" font-size="6.7" font-weight="bold" text-anchor="middle" fill="#111" stroke="#111" stroke-width="0.25">-7</text>
<text x="440.25" y="8.7" font-size="10.0" font-weight="bold" text-anchor="middle" fill="#111" textLength="59.7" lengthAdjust="spacingAndGlyphs" stroke="#111" stroke-width="0.25">DOHH-2 (FL)</text>
<text x="436.25" y="158.7" font-size="7.8" font-weight="bold" text-anchor="middle" fill="#111" textLength="103.5" lengthAdjust="spacingAndGlyphs" stroke="#111" stroke-width="0.25">log mAb concentration (M)</text>
<text x="352.5" y="67.6" font-size="8.3" font-weight="bold" text-anchor="middle" fill="#111" textLength="30.4" lengthAdjust="spacingAndGlyphs" transform="rotate(-90 352.5 67.6)" stroke="#111" stroke-width="0.25">viability</text>
<text x="352.5" y="89.15" font-size="8.3" font-weight="bold" text-anchor="middle" fill="#111" textLength="7.8" lengthAdjust="spacingAndGlyphs" transform="rotate(-90 352.5 89.15)" stroke="#111" stroke-width="0.25">%</text>
<path d="M389.33 31.98 L390.15 31.98 L390.97 31.98 L391.79 31.98 L392.61 31.98 L393.43 31.98 L394.25 31.98 L395.07 31.98 L395.89 31.98 L396.71 31.98 L397.53 31.98 L398.36 31.98 L399.18 31.98 L400 31.98 L400.82 31.98 L401.64 31.98 L402.46 31.98 L403.28 31.98 L404.1 31.98 L404.92 31.98 L405.74 31.98 L406.56 31.98 L407.38 31.98 L408.2 31.98 L409.02 31.98 L409.84 31.98 L410.67 31.98 L411.49 31.98 L412.31 31.98 L413.13 31.98 L413.95 31.98 L414.77 31.98 L415.59 31.98 L416.41 31.98 L417.23 31.98 L418.05 31.98 L418.87 31.98 L419.69 31.98 L420.51 31.98 L421.33 31.98 L422.15 31.98 L422.97 31.98 L423.8 31.98 L424.62 31.98 L425.44 31.98 L426.26 31.98 L427.08 31.98 L427.9 31.98 L428.72 31.98 L429.54 31.98 L430.36 31.98 L431.18 31.98 L432 31.98 L432.82 31.98 L433.64 31.98 L434.46 31.98 L435.28 31.98 L436.11 31.98 L436.93 31.98 L437.75 31.98 L438.57 31.98 L439.39 31.99 L440.21 31.99 L441.03 31.99 L441.85 31.99 L442.67 31.99 L443.49 31.99 L444.31 31.99 L445.13 32 L445.95 32 L446.77 32 L447.59 32.01 L448.42 32.01 L449.24 32.02 L450.06 32.03 L450.88 32.04 L451.7 32.05 L452.52 32.07 L453.34 32.09 L454.16 32.11 L454.98 32.14 L455.8 32.18 L456.62 32.22 L457.44 32.27 L458.26 32.33 L459.08 32.41 L459.9 32.51 L460.72 32.62 L461.55 32.76 L462.37 32.93 L463.19 33.14 L464.01 33.39 L464.83 33.69 L465.65 34.06 L466.47 34.51 L467.29 35.05 L468.11 35.7 L468.93 36.48 L469.75 37.43 L470.57 38.55 L471.39 39.89 L472.21 41.47 L473.03 43.34 L473.86 45.51 L474.68 48.04 L475.5 50.93 L476.32 54.22 L477.14 57.9 L477.96 61.97 L478.78 66.4 L479.6 71.14 L480.42 76.11 L481.24 81.24 L482.06 86.43 L482.88 91.57 L483.7 96.57 L484.52 101.33 L485.34 105.79 L486.17 109.9 L486.99 113.62 L487.81 116.94" fill="none" stroke="#111" stroke-width="1.25"/>
<path d="M389.33 37.2 L390.15 37.46 L390.97 37.74 L391.79 38.05 L392.61 38.39 L393.43 38.76 L394.25 39.16 L395.07 39.6 L395.89 40.08 L396.71 40.6 L397.53 41.16 L398.36 41.77 L399.18 42.43 L400 43.14 L400.82 43.91 L401.64 44.73 L402.46 45.62 L403.28 46.56 L404.1 47.57 L404.92 48.65 L405.74 49.79 L406.56 50.99 L407.38 52.26 L408.2 53.6 L409.02 55 L409.84 56.47 L410.67 57.99 L411.49 59.56 L412.31 61.18 L413.13 62.85 L413.95 64.55 L414.77 66.28 L415.59 68.03 L416.41 69.8 L417.23 71.57 L418.05 73.34 L418.87 75.1 L419.69 76.83 L420.51 78.54 L421.33 80.22 L422.15 81.85 L422.97 83.44 L423.8 84.98 L424.62 86.46 L425.44 87.87 L426.26 89.23 L427.08 90.52 L427.9 91.75 L428.72 92.9 L429.54 94 L430.36 95.02 L431.18 95.99 L432 96.89 L432.82 97.73 L433.64 98.51 L434.46 99.24 L435.28 99.91 L436.11 100.53 L436.93 101.11 L437.75 101.64 L438.57 102.13 L439.39 102.58 L440.21 102.99 L441.03 103.37 L441.85 103.72 L442.67 104.04 L443.49 104.33 L444.31 104.59 L445.13 104.84 L445.95 105.06 L446.77 105.26 L447.59 105.45 L448.42 105.62 L449.24 105.77 L450.06 105.91 L450.88 106.04 L451.7 106.15 L452.52 106.26 L453.34 106.36 L454.16 106.44 L454.98 106.52 L455.8 106.6 L456.62 106.66 L457.44 106.72 L458.26 106.78 L459.08 106.82 L459.9 106.87 L460.72 106.91 L461.55 106.95 L462.37 106.98 L463.19 107.01 L464.01 107.04 L464.83 107.06 L465.65 107.09 L466.47 107.11 L467.29 107.13 L468.11 107.14 L468.93 107.16 L469.75 107.17 L470.57 107.19 L471.39 107.2 L472.21 107.21 L473.03 107.22 L473.86 107.23 L474.68 107.23 L475.5 107.24 L476.32 107.25 L477.14 107.25 L477.96 107.26 L478.78 107.26 L479.6 107.27 L480.42 107.27 L481.24 107.27 L482.06 107.28 L482.88 107.28 L483.7 107.28 L484.52 107.29 L485.34 107.29 L486.17 107.29 L486.99 107.29 L487.81 107.29" fill="none" stroke="#111" stroke-width="1.25"/>
<path d="M389.33 60.77 L390.15 60.77 L390.97 60.77 L391.79 60.77 L392.61 60.77 L393.43 60.77 L394.25 60.77 L395.07 60.77 L395.89 60.77 L396.71 60.77 L397.53 60.77 L398.36 60.77 L399.18 60.77 L400 60.78 L400.82 60.78 L401.64 60.79 L402.46 60.8 L403.28 60.81 L404.1 60.83 L404.92 60.86 L405.74 60.89 L406.56 60.95 L407.38 61.03 L408.2 61.14 L409.02 61.3 L409.84 61.53 L410.67 61.85 L411.49 62.3 L412.31 62.92 L413.13 63.78 L413.95 64.94 L414.77 66.47 L415.59 68.43 L416.41 70.87 L417.23 73.74 L418.05 76.96 L418.87 80.36 L419.69 83.72 L420.51 86.85 L421.33 89.59 L422.15 91.87 L422.97 93.69 L423.8 95.09 L424.62 96.15 L425.44 96.92 L426.26 97.49 L427.08 97.89 L427.9 98.18 L428.72 98.38 L429.54 98.52 L430.36 98.62 L431.18 98.69 L432 98.74 L432.82 98.78 L433.64 98.8 L434.46 98.82 L435.28 98.83 L436.11 98.84 L436.93 98.84 L437.75 98.85 L438.57 98.85 L439.39 98.85 L440.21 98.85 L441.03 98.85 L441.85 98.86 L442.67 98.86 L443.49 98.86 L444.31 98.86 L445.13 98.86 L445.95 98.86 L446.77 98.86 L447.59 98.86 L448.42 98.86 L449.24 98.86 L450.06 98.86 L450.88 98.86 L451.7 98.86 L452.52 98.86 L453.34 98.86 L454.16 98.86 L454.98 98.86 L455.8 98.86 L456.62 98.86 L457.44 98.86 L458.26 98.86 L459.08 98.86 L459.9 98.86 L460.72 98.86 L461.55 98.86 L462.37 98.86 L463.19 98.86 L464.01 98.86 L464.83 98.86 L465.65 98.86 L466.47 98.86 L467.29 98.86 L468.11 98.86 L468.93 98.86 L469.75 98.86 L470.57 98.86 L471.39 98.86 L472.21 98.86 L473.03 98.86 L473.86 98.86 L474.68 98.86 L475.5 98.86 L476.32 98.86 L477.14 98.86 L477.96 98.86 L478.78 98.86 L479.6 98.86 L480.42 98.86 L481.24 98.86 L482.06 98.86 L482.88 98.86 L483.7 98.86 L484.52 98.86 L485.34 98.86 L486.17 98.86 L486.99 98.86 L487.81 98.86" fill="none" stroke="#111" stroke-width="1.25"/>
<path d="M389.33 54.56 L390.15 55.33 L390.97 56.15 L391.79 57.02 L392.61 57.95 L393.43 58.94 L394.25 59.98 L395.07 61.09 L395.89 62.26 L396.71 63.49 L397.53 64.78 L398.36 66.13 L399.18 67.53 L400 68.99 L400.82 70.51 L401.64 72.07 L402.46 73.68 L403.28 75.33 L404.1 77.01 L404.92 78.72 L405.74 80.46 L406.56 82.2 L407.38 83.96 L408.2 85.72 L409.02 87.47 L409.84 89.21 L410.67 90.93 L411.49 92.63 L412.31 94.29 L413.13 95.91 L413.95 97.5 L414.77 99.03 L415.59 100.51 L416.41 101.94 L417.23 103.31 L418.05 104.63 L418.87 105.88 L419.69 107.07 L420.51 108.2 L421.33 109.27 L422.15 110.28 L422.97 111.23 L423.8 112.13 L424.62 112.97 L425.44 113.75 L426.26 114.49 L427.08 115.17 L427.9 115.81 L428.72 116.4 L429.54 116.95 L430.36 117.46 L431.18 117.93 L432 118.37 L432.82 118.78 L433.64 119.15 L434.46 119.49 L435.28 119.81 L436.11 120.11 L436.93 120.37 L437.75 120.62 L438.57 120.85 L439.39 121.06 L440.21 121.25 L441.03 121.43 L441.85 121.59 L442.67 121.74 L443.49 121.88 L444.31 122 L445.13 122.12 L445.95 122.22 L446.77 122.32 L447.59 122.41 L448.42 122.49 L449.24 122.56 L450.06 122.63 L450.88 122.69 L451.7 122.75 L452.52 122.8 L453.34 122.85 L454.16 122.89 L454.98 122.93 L455.8 122.97 L456.62 123 L457.44 123.03 L458.26 123.06 L459.08 123.09 L459.9 123.11 L460.72 123.13 L461.55 123.15 L462.37 123.17 L463.19 123.19 L464.01 123.2 L464.83 123.22 L465.65 123.23 L466.47 123.24 L467.29 123.25 L468.11 123.26 L468.93 123.27 L469.75 123.28 L470.57 123.28 L471.39 123.29 L472.21 123.3 L473.03 123.3 L473.86 123.31 L474.68 123.31 L475.5 123.32 L476.32 123.32 L477.14 123.32 L477.96 123.33 L478.78 123.33 L479.6 123.33 L480.42 123.33 L481.24 123.34 L482.06 123.34 L482.88 123.34 L483.7 123.34 L484.52 123.34 L485.34 123.34 L486.17 123.35 L486.99 123.35 L487.81 123.35" fill="none" stroke="#111" stroke-width="1.25"/>
<line x1="389.33" y1="22.89" x2="389.33" y2="29.31" stroke="#333" stroke-width="0.7"/>
<line x1="387.53" y1="22.89" x2="391.13" y2="22.89" stroke="#333" stroke-width="0.7"/>
<line x1="387.53" y1="29.31" x2="391.13" y2="29.31" stroke="#333" stroke-width="0.7"/>
<line x1="401.63" y1="28.77" x2="401.63" y2="37.33" stroke="#333" stroke-width="0.7"/>
<line x1="399.83" y1="28.77" x2="403.43" y2="28.77" stroke="#333" stroke-width="0.7"/>
<line x1="399.83" y1="37.33" x2="403.43" y2="37.33" stroke="#333" stroke-width="0.7"/>
<line x1="413.94" y1="31.77" x2="413.94" y2="40.33" stroke="#333" stroke-width="0.7"/>
<line x1="412.14" y1="31.77" x2="415.74" y2="31.77" stroke="#333" stroke-width="0.7"/>
<line x1="412.14" y1="40.33" x2="415.74" y2="40.33" stroke="#333" stroke-width="0.7"/>
<line x1="426.25" y1="29.31" x2="426.25" y2="35.73" stroke="#333" stroke-width="0.7"/>
<line x1="424.45" y1="29.31" x2="428.05" y2="29.31" stroke="#333" stroke-width="0.7"/>
<line x1="424.45" y1="35.73" x2="428.05" y2="35.73" stroke="#333" stroke-width="0.7"/>
<line x1="438.58" y1="25.88" x2="438.58" y2="32.3" stroke="#333" stroke-width="0.7"/>
<line x1="436.78" y1="25.88" x2="440.38" y2="25.88" stroke="#333" stroke-width="0.7"/>
<line x1="436.78" y1="32.3" x2="440.38" y2="32.3" stroke="#333" stroke-width="0.7"/>
<line x1="450.89" y1="28.02" x2="450.89" y2="34.44" stroke="#333" stroke-width="0.7"/>
<line x1="449.09" y1="28.02" x2="452.69" y2="28.02" stroke="#333" stroke-width="0.7"/>
<line x1="449.09" y1="34.44" x2="452.69" y2="34.44" stroke="#333" stroke-width="0.7"/>
<line x1="413.94" y1="61.51" x2="413.94" y2="72.21" stroke="#333" stroke-width="0.7"/>
<line x1="412.14" y1="61.51" x2="415.74" y2="61.51" stroke="#333" stroke-width="0.7"/>
<line x1="412.14" y1="72.21" x2="415.74" y2="72.21" stroke="#333" stroke-width="0.7"/>
<line x1="389.33" y1="53.49" x2="389.33" y2="74.89" stroke="#333" stroke-width="0.7"/>
<line x1="387.53" y1="53.49" x2="391.13" y2="53.49" stroke="#333" stroke-width="0.7"/>
<line x1="387.53" y1="74.89" x2="391.13" y2="74.89" stroke="#333" stroke-width="0.7"/>
<line x1="401.63" y1="44.5" x2="401.63" y2="70.18" stroke="#333" stroke-width="0.7"/>
<line x1="399.83" y1="44.5" x2="403.43" y2="44.5" stroke="#333" stroke-width="0.7"/>
<line x1="399.83" y1="70.18" x2="403.43" y2="70.18" stroke="#333" stroke-width="0.7"/>
<line x1="413.94" y1="76.39" x2="413.94" y2="87.09" stroke="#333" stroke-width="0.7"/>
<line x1="412.14" y1="76.39" x2="415.74" y2="76.39" stroke="#333" stroke-width="0.7"/>
<line x1="412.14" y1="87.09" x2="415.74" y2="87.09" stroke="#333" stroke-width="0.7"/>
<line x1="389.33" y1="48.78" x2="389.33" y2="57.34" stroke="#333" stroke-width="0.7"/>
<line x1="387.53" y1="48.78" x2="391.13" y2="48.78" stroke="#333" stroke-width="0.7"/>
<line x1="387.53" y1="57.34" x2="391.13" y2="57.34" stroke="#333" stroke-width="0.7"/>
<rect x="387.33" y="51.06" width="4.0" height="4.0" fill="#111"/>
<rect x="399.63" y="72.14" width="4.0" height="4.0" fill="#111"/>
<rect x="411.94" y="96.54" width="4.0" height="4.0" fill="#111"/>
<rect x="424.25" y="108.31" width="4.0" height="4.0" fill="#111"/>
<rect x="436.58" y="114.94" width="4.0" height="4.0" fill="#111"/>
<rect x="448.89" y="115.26" width="4.0" height="4.0" fill="#111"/>
<rect x="461.19" y="119.43" width="4.0" height="4.0" fill="#111"/>
<rect x="473.5" y="121.47" width="4.0" height="4.0" fill="#111"/>
<rect x="485.81" y="126.92" width="4.0" height="4.0" fill="#111"/>
<circle cx="389.33" cy="64.19" r="2.0" fill="#111"/>
<circle cx="401.63" cy="57.34" r="2.0" fill="#111"/>
<circle cx="413.94" cy="81.74" r="2.0" fill="#111"/>
<circle cx="426.25" cy="94.15" r="2.0" fill="#111"/>
<circle cx="438.58" cy="103.99" r="2.0" fill="#111"/>
<circle cx="463.19" cy="103.46" r="2.0" fill="#111"/>
<circle cx="475.5" cy="98.21" r="2.0" fill="#111"/>
<circle cx="487.81" cy="91.47" r="2.0" fill="#111"/>
<rect x="387.23" y="24" width="4.2" height="4.2" fill="#fff" stroke="#111" stroke-width="1"/>
<rect x="399.53" y="30.95" width="4.2" height="4.2" fill="#fff" stroke="#111" stroke-width="1"/>
<rect x="411.84" y="33.95" width="4.2" height="4.2" fill="#fff" stroke="#111" stroke-width="1"/>
<rect x="424.15" y="30.42" width="4.2" height="4.2" fill="#fff" stroke="#111" stroke-width="1"/>
<rect x="436.48" y="26.99" width="4.2" height="4.2" fill="#fff" stroke="#111" stroke-width="1"/>
<rect x="448.79" y="29.13" width="4.2" height="4.2" fill="#fff" stroke="#111" stroke-width="1"/>
<rect x="461.09" y="35.77" width="4.2" height="4.2" fill="#fff" stroke="#111" stroke-width="1"/>
<rect x="473.4" y="48.18" width="4.2" height="4.2" fill="#fff" stroke="#111" stroke-width="1"/>
<rect x="485.71" y="114.41" width="4.2" height="4.2" fill="#fff" stroke="#111" stroke-width="1"/>
<path d="M389.33 35.27L391.93 37.87L389.33 40.47L386.73 37.87Z" fill="#fff" stroke="#111" stroke-width="1.1"/>
<path d="M401.63 42.01L404.23 44.61L401.63 47.21L399.03 44.61Z" fill="#fff" stroke="#111" stroke-width="1.1"/>
<path d="M413.94 64.26L416.54 66.86L413.94 69.46L411.34 66.86Z" fill="#fff" stroke="#111" stroke-width="1.1"/>
<path d="M426.25 86.41L428.85 89.01L426.25 91.61L423.65 89.01Z" fill="#fff" stroke="#111" stroke-width="1.1"/>
<path d="M438.58 97.65L441.18 100.25L438.58 102.85L435.98 100.25Z" fill="#fff" stroke="#111" stroke-width="1.1"/>
<path d="M450.89 101.82L453.49 104.42L450.89 107.02L448.29 104.42Z" fill="#fff" stroke="#111" stroke-width="1.1"/>
<path d="M463.19 102.78L465.79 105.38L463.19 107.98L460.59 105.38Z" fill="#fff" stroke="#111" stroke-width="1.1"/>
<path d="M475.5 104.28L478.1 106.88L475.5 109.48L472.9 106.88Z" fill="#fff" stroke="#111" stroke-width="1.1"/>
<path d="M487.81 106.42L490.41 109.02L487.81 111.62L485.21 109.02Z" fill="#fff" stroke="#111" stroke-width="1.1"/>
<line x1="40.7" y1="186.46" x2="40.7" y2="315.4" stroke="#111" stroke-width="1.2"/>
<line x1="40.1" y1="314.8" x2="169.8" y2="314.8" stroke="#111" stroke-width="1.2"/>
<line x1="37.3" y1="313.3" x2="40.7" y2="313.3" stroke="#111" stroke-width="1.0"/>
<text x="36.4" y="316.1" font-size="6.7" font-weight="bold" text-anchor="end" fill="#111" stroke="#111" stroke-width="0.25">0</text>
<line x1="37.3" y1="292.16" x2="40.7" y2="292.16" stroke="#111" stroke-width="1.0"/>
<text x="36.4" y="294.96" font-size="6.7" font-weight="bold" text-anchor="end" fill="#111" stroke="#111" stroke-width="0.25">20</text>
<line x1="37.3" y1="271.02" x2="40.7" y2="271.02" stroke="#111" stroke-width="1.0"/>
<text x="36.4" y="273.82" font-size="6.7" font-weight="bold" text-anchor="end" fill="#111" stroke="#111" stroke-width="0.25">40</text>
<line x1="37.3" y1="249.88" x2="40.7" y2="249.88" stroke="#111" stroke-width="1.0"/>
<text x="36.4" y="252.68" font-size="6.7" font-weight="bold" text-anchor="end" fill="#111" stroke="#111" stroke-width="0.25">60</text>
<line x1="37.3" y1="228.74" x2="40.7" y2="228.74" stroke="#111" stroke-width="1.0"/>
<text x="36.4" y="231.54" font-size="6.7" font-weight="bold" text-anchor="end" fill="#111" stroke="#111" stroke-width="0.25">80</text>
<line x1="37.3" y1="207.6" x2="40.7" y2="207.6" stroke="#111" stroke-width="1.0"/>
<text x="36.4" y="210.4" font-size="6.7" font-weight="bold" text-anchor="end" fill="#111" stroke="#111" stroke-width="0.25">100</text>
<line x1="37.3" y1="186.46" x2="40.7" y2="186.46" stroke="#111" stroke-width="1.0"/>
<text x="36.4" y="189.26" font-size="6.7" font-weight="bold" text-anchor="end" fill="#111" stroke="#111" stroke-width="0.25">120</text>
<line x1="40.7" y1="314.8" x2="40.7" y2="318" stroke="#111" stroke-width="1.0"/>
<text x="40.7" y="325.6" font-size="6.7" font-weight="bold" text-anchor="middle" fill="#111" stroke="#111" stroke-width="0.25">-12</text>
<line x1="48.44" y1="314.8" x2="48.44" y2="316.6" stroke="#111" stroke-width="0.8"/>
<line x1="52.96" y1="314.8" x2="52.96" y2="316.6" stroke="#111" stroke-width="0.8"/>
<line x1="56.17" y1="314.8" x2="56.17" y2="316.6" stroke="#111" stroke-width="0.8"/>
<line x1="58.66" y1="314.8" x2="58.66" y2="316.6" stroke="#111" stroke-width="0.8"/>
<line x1="60.7" y1="314.8" x2="60.7" y2="316.6" stroke="#111" stroke-width="0.8"/>
<line x1="62.42" y1="314.8" x2="62.42" y2="316.6" stroke="#111" stroke-width="0.8"/>
<line x1="63.91" y1="314.8" x2="63.91" y2="316.6" stroke="#111" stroke-width="0.8"/>
<line x1="65.22" y1="314.8" x2="65.22" y2="316.6" stroke="#111" stroke-width="0.8"/>
<line x1="66.4" y1="314.8" x2="66.4" y2="318" stroke="#111" stroke-width="1.0"/>
<text x="66.4" y="325.6" font-size="6.7" font-weight="bold" text-anchor="middle" fill="#111" stroke="#111" stroke-width="0.25">-11</text>
<line x1="74.14" y1="314.8" x2="74.14" y2="316.6" stroke="#111" stroke-width="0.8"/>
<line x1="78.66" y1="314.8" x2="78.66" y2="316.6" stroke="#111" stroke-width="0.8"/>
<line x1="81.87" y1="314.8" x2="81.87" y2="316.6" stroke="#111" stroke-width="0.8"/>
<line x1="84.36" y1="314.8" x2="84.36" y2="316.6" stroke="#111" stroke-width="0.8"/>
<line x1="86.4" y1="314.8" x2="86.4" y2="316.6" stroke="#111" stroke-width="0.8"/>
<line x1="88.12" y1="314.8" x2="88.12" y2="316.6" stroke="#111" stroke-width="0.8"/>
<line x1="89.61" y1="314.8" x2="89.61" y2="316.6" stroke="#111" stroke-width="0.8"/>
<line x1="90.92" y1="314.8" x2="90.92" y2="316.6" stroke="#111" stroke-width="0.8"/>
<line x1="92.1" y1="314.8" x2="92.1" y2="318" stroke="#111" stroke-width="1.0"/>
<text x="92.1" y="325.6" font-size="6.7" font-weight="bold" text-anchor="middle" fill="#111" stroke="#111" stroke-width="0.25">-10</text>
<line x1="99.84" y1="314.8" x2="99.84" y2="316.6" stroke="#111" stroke-width="0.8"/>
<line x1="104.36" y1="314.8" x2="104.36" y2="316.6" stroke="#111" stroke-width="0.8"/>
<line x1="107.57" y1="314.8" x2="107.57" y2="316.6" stroke="#111" stroke-width="0.8"/>
<line x1="110.06" y1="314.8" x2="110.06" y2="316.6" stroke="#111" stroke-width="0.8"/>
<line x1="112.1" y1="314.8" x2="112.1" y2="316.6" stroke="#111" stroke-width="0.8"/>
<line x1="113.82" y1="314.8" x2="113.82" y2="316.6" stroke="#111" stroke-width="0.8"/>
<line x1="115.31" y1="314.8" x2="115.31" y2="316.6" stroke="#111" stroke-width="0.8"/>
<line x1="116.62" y1="314.8" x2="116.62" y2="316.6" stroke="#111" stroke-width="0.8"/>
<line x1="117.8" y1="314.8" x2="117.8" y2="318" stroke="#111" stroke-width="1.0"/>
<text x="117.8" y="325.6" font-size="6.7" font-weight="bold" text-anchor="middle" fill="#111" stroke="#111" stroke-width="0.25">-9</text>
<line x1="125.54" y1="314.8" x2="125.54" y2="316.6" stroke="#111" stroke-width="0.8"/>
<line x1="130.06" y1="314.8" x2="130.06" y2="316.6" stroke="#111" stroke-width="0.8"/>
<line x1="133.27" y1="314.8" x2="133.27" y2="316.6" stroke="#111" stroke-width="0.8"/>
<line x1="135.76" y1="314.8" x2="135.76" y2="316.6" stroke="#111" stroke-width="0.8"/>
<line x1="137.8" y1="314.8" x2="137.8" y2="316.6" stroke="#111" stroke-width="0.8"/>
<line x1="139.52" y1="314.8" x2="139.52" y2="316.6" stroke="#111" stroke-width="0.8"/>
<line x1="141.01" y1="314.8" x2="141.01" y2="316.6" stroke="#111" stroke-width="0.8"/>
<line x1="142.32" y1="314.8" x2="142.32" y2="316.6" stroke="#111" stroke-width="0.8"/>
<line x1="143.5" y1="314.8" x2="143.5" y2="318" stroke="#111" stroke-width="1.0"/>
<text x="143.5" y="325.6" font-size="6.7" font-weight="bold" text-anchor="middle" fill="#111" stroke="#111" stroke-width="0.25">-8</text>
<line x1="151.24" y1="314.8" x2="151.24" y2="316.6" stroke="#111" stroke-width="0.8"/>
<line x1="155.76" y1="314.8" x2="155.76" y2="316.6" stroke="#111" stroke-width="0.8"/>
<line x1="158.97" y1="314.8" x2="158.97" y2="316.6" stroke="#111" stroke-width="0.8"/>
<line x1="161.46" y1="314.8" x2="161.46" y2="316.6" stroke="#111" stroke-width="0.8"/>
<line x1="163.5" y1="314.8" x2="163.5" y2="316.6" stroke="#111" stroke-width="0.8"/>
<line x1="165.22" y1="314.8" x2="165.22" y2="316.6" stroke="#111" stroke-width="0.8"/>
<line x1="166.71" y1="314.8" x2="166.71" y2="316.6" stroke="#111" stroke-width="0.8"/>
<line x1="168.02" y1="314.8" x2="168.02" y2="316.6" stroke="#111" stroke-width="0.8"/>
<line x1="169.2" y1="314.8" x2="169.2" y2="318" stroke="#111" stroke-width="1.0"/>
<text x="169.2" y="325.6" font-size="6.7" font-weight="bold" text-anchor="middle" fill="#111" stroke="#111" stroke-width="0.25">-7</text>
<text x="103.38" y="185.5" font-size="10.0" font-weight="bold" text-anchor="middle" fill="#111" textLength="90.75" lengthAdjust="spacingAndGlyphs" stroke="#111" stroke-width="0.25">Granta-519 (MCL)</text>
<text x="103.95" y="337.6" font-size="7.8" font-weight="bold" text-anchor="middle" fill="#111" textLength="103.7" lengthAdjust="spacingAndGlyphs" stroke="#111" stroke-width="0.25">log mAb concentration (M)</text>
<text x="21" y="245.9" font-size="8.3" font-weight="bold" text-anchor="middle" fill="#111" textLength="29.2" lengthAdjust="spacingAndGlyphs" transform="rotate(-90 21 245.9)" stroke="#111" stroke-width="0.25">viability</text>
<text x="21" y="267.4" font-size="8.3" font-weight="bold" text-anchor="middle" fill="#111" textLength="7.9" lengthAdjust="spacingAndGlyphs" transform="rotate(-90 21 267.4)" stroke="#111" stroke-width="0.25">%</text>
<path d="M57.66 213.41 L58.48 213.41 L59.3 213.41 L60.11 213.41 L60.93 213.41 L61.75 213.41 L62.57 213.41 L63.38 213.41 L64.2 213.41 L65.02 213.41 L65.84 213.41 L66.65 213.41 L67.47 213.41 L68.29 213.41 L69.11 213.41 L69.92 213.41 L70.74 213.41 L71.56 213.41 L72.38 213.41 L73.19 213.41 L74.01 213.41 L74.83 213.41 L75.65 213.41 L76.46 213.41 L77.28 213.41 L78.1 213.41 L78.92 213.41 L79.73 213.41 L80.55 213.41 L81.37 213.41 L82.19 213.41 L83 213.41 L83.82 213.41 L84.64 213.41 L85.46 213.41 L86.27 213.41 L87.09 213.41 L87.91 213.41 L88.73 213.41 L89.54 213.41 L90.36 213.41 L91.18 213.41 L92 213.41 L92.81 213.41 L93.63 213.41 L94.45 213.41 L95.27 213.41 L96.08 213.41 L96.9 213.41 L97.72 213.41 L98.54 213.41 L99.35 213.41 L100.17 213.41 L100.99 213.41 L101.81 213.41 L102.62 213.41 L103.44 213.41 L104.26 213.41 L105.08 213.41 L105.89 213.41 L106.71 213.41 L107.53 213.41 L108.35 213.41 L109.16 213.41 L109.98 213.41 L110.8 213.41 L111.62 213.41 L112.43 213.41 L113.25 213.41 L114.07 213.41 L114.89 213.41 L115.7 213.41 L116.52 213.41 L117.34 213.41 L118.16 213.41 L118.97 213.41 L119.79 213.42 L120.61 213.42 L121.42 213.42 L122.24 213.42 L123.06 213.43 L123.88 213.43 L124.69 213.45 L125.51 213.46 L126.33 213.49 L127.15 213.53 L127.96 213.6 L128.78 213.7 L129.6 213.86 L130.42 214.1 L131.23 214.48 L132.05 215.05 L132.87 215.94 L133.69 217.27 L134.5 219.28 L135.32 222.23 L136.14 226.45 L136.96 232.27 L137.77 239.89 L138.59 249.2 L139.41 259.7 L140.23 270.49 L141.04 280.58 L141.86 289.22 L142.68 296.07 L143.5 301.18 L144.31 304.82 L145.13 307.33 L145.95 309.02 L146.77 310.14 L147.58 310.88 L148.4 311.36 L149.22 311.67 L150.04 311.87 L150.85 312 L151.67 312.09 L152.49 312.14 L153.31 312.18 L154.12 312.2 L154.94 312.22 L155.76 312.23" fill="none" stroke="#111" stroke-width="1.25"/>
<path d="M57.66 212.78 L58.48 212.81 L59.3 212.85 L60.11 212.9 L60.93 212.94 L61.75 212.99 L62.57 213.05 L63.38 213.11 L64.2 213.17 L65.02 213.24 L65.84 213.32 L66.65 213.4 L67.47 213.49 L68.29 213.58 L69.11 213.69 L69.92 213.8 L70.74 213.92 L71.56 214.05 L72.38 214.2 L73.19 214.35 L74.01 214.52 L74.83 214.7 L75.65 214.89 L76.46 215.1 L77.28 215.33 L78.1 215.57 L78.92 215.83 L79.73 216.11 L80.55 216.41 L81.37 216.73 L82.19 217.08 L83 217.45 L83.82 217.85 L84.64 218.27 L85.46 218.72 L86.27 219.21 L87.09 219.72 L87.91 220.26 L88.73 220.84 L89.54 221.44 L90.36 222.09 L91.18 222.76 L92 223.48 L92.81 224.22 L93.63 225 L94.45 225.82 L95.27 226.67 L96.08 227.55 L96.9 228.46 L97.72 229.4 L98.54 230.37 L99.35 231.36 L100.17 232.38 L100.99 233.41 L101.81 234.46 L102.62 235.53 L103.44 236.6 L104.26 237.68 L105.08 238.76 L105.89 239.84 L106.71 240.91 L107.53 241.98 L108.35 243.03 L109.16 244.06 L109.98 245.08 L110.8 246.07 L111.62 247.04 L112.43 247.99 L113.25 248.9 L114.07 249.78 L114.89 250.63 L115.7 251.45 L116.52 252.23 L117.34 252.98 L118.16 253.7 L118.97 254.38 L119.79 255.02 L120.61 255.63 L121.42 256.21 L122.24 256.75 L123.06 257.27 L123.88 257.75 L124.69 258.21 L125.51 258.63 L126.33 259.03 L127.15 259.4 L127.96 259.75 L128.78 260.07 L129.6 260.38 L130.42 260.66 L131.23 260.92 L132.05 261.16 L132.87 261.39 L133.69 261.6 L134.5 261.8 L135.32 261.98 L136.14 262.14 L136.96 262.3 L137.77 262.44 L138.59 262.57 L139.41 262.7 L140.23 262.81 L141.04 262.92 L141.86 263.01 L142.68 263.1 L143.5 263.18 L144.31 263.26 L145.13 263.33 L145.95 263.39 L146.77 263.45 L147.58 263.51 L148.4 263.56 L149.22 263.61 L150.04 263.65 L150.85 263.69 L151.67 263.73 L152.49 263.76 L153.31 263.79 L154.12 263.82 L154.94 263.85 L155.76 263.87" fill="none" stroke="#111" stroke-width="1.25"/>
<path d="M57.66 219.91 L58.48 220.14 L59.3 220.39 L60.11 220.66 L60.93 220.95 L61.75 221.27 L62.57 221.6 L63.38 221.97 L64.2 222.35 L65.02 222.77 L65.84 223.21 L66.65 223.69 L67.47 224.19 L68.29 224.73 L69.11 225.3 L69.92 225.91 L70.74 226.56 L71.56 227.24 L72.38 227.96 L73.19 228.72 L74.01 229.52 L74.83 230.36 L75.65 231.23 L76.46 232.15 L77.28 233.1 L78.1 234.08 L78.92 235.11 L79.73 236.16 L80.55 237.24 L81.37 238.35 L82.19 239.49 L83 240.64 L83.82 241.82 L84.64 243 L85.46 244.2 L86.27 245.4 L87.09 246.6 L87.91 247.8 L88.73 248.99 L89.54 250.17 L90.36 251.33 L91.18 252.48 L92 253.6 L92.81 254.69 L93.63 255.76 L94.45 256.79 L95.27 257.79 L96.08 258.76 L96.9 259.69 L97.72 260.58 L98.54 261.44 L99.35 262.25 L100.17 263.03 L100.99 263.76 L101.81 264.46 L102.62 265.12 L103.44 265.75 L104.26 266.34 L105.08 266.89 L105.89 267.41 L106.71 267.9 L107.53 268.35 L108.35 268.78 L109.16 269.18 L109.98 269.55 L110.8 269.9 L111.62 270.22 L112.43 270.52 L113.25 270.8 L114.07 271.06 L114.89 271.3 L115.7 271.52 L116.52 271.73 L117.34 271.92 L118.16 272.1 L118.97 272.26 L119.79 272.41 L120.61 272.55 L121.42 272.68 L122.24 272.8 L123.06 272.91 L123.88 273.01 L124.69 273.1 L125.51 273.19 L126.33 273.27 L127.15 273.34 L127.96 273.41 L128.78 273.47 L129.6 273.53 L130.42 273.58 L131.23 273.63 L132.05 273.68 L132.87 273.72 L133.69 273.76 L134.5 273.79 L135.32 273.82 L136.14 273.85 L136.96 273.88 L137.77 273.9 L138.59 273.93 L139.41 273.95 L140.23 273.97 L141.04 273.99 L141.86 274 L142.68 274.02 L143.5 274.03 L144.31 274.04 L145.13 274.06 L145.95 274.07 L146.77 274.08 L147.58 274.09 L148.4 274.09 L149.22 274.1 L150.04 274.11 L150.85 274.12 L151.67 274.12 L152.49 274.13 L153.31 274.13 L154.12 274.14 L154.94 274.14 L155.76 274.15" fill="none" stroke="#111" stroke-width="1.25"/>
<path d="M57.66 224.33 L58.48 225.32 L59.3 226.42 L60.11 227.65 L60.93 229.03 L61.75 230.56 L62.57 232.24 L63.38 234.1 L64.2 236.12 L65.02 238.32 L65.84 240.7 L66.65 243.25 L67.47 245.96 L68.29 248.83 L69.11 251.82 L69.92 254.93 L70.74 258.13 L71.56 261.39 L72.38 264.68 L73.19 267.96 L74.01 271.21 L74.83 274.4 L75.65 277.49 L76.46 280.47 L77.28 283.31 L78.1 286 L78.92 288.52 L79.73 290.87 L80.55 293.04 L81.37 295.04 L82.19 296.87 L83 298.53 L83.82 300.03 L84.64 301.38 L85.46 302.59 L86.27 303.68 L87.09 304.64 L87.91 305.5 L88.73 306.26 L89.54 306.93 L90.36 307.53 L91.18 308.05 L92 308.51 L92.81 308.91 L93.63 309.27 L94.45 309.58 L95.27 309.85 L96.08 310.09 L96.9 310.3 L97.72 310.48 L98.54 310.64 L99.35 310.78 L100.17 310.9 L100.99 311 L101.81 311.09 L102.62 311.17 L103.44 311.24 L104.26 311.31 L105.08 311.36 L105.89 311.4 L106.71 311.44 L107.53 311.48 L108.35 311.51 L109.16 311.54 L109.98 311.56 L110.8 311.58 L111.62 311.6 L112.43 311.61 L113.25 311.63 L114.07 311.64 L114.89 311.65 L115.7 311.66 L116.52 311.66 L117.34 311.67 L118.16 311.68 L118.97 311.68 L119.79 311.69 L120.61 311.69 L121.42 311.69 L122.24 311.7 L123.06 311.7 L123.88 311.7 L124.69 311.7 L125.51 311.7 L126.33 311.7 L127.15 311.71 L127.96 311.71 L128.78 311.71 L129.6 311.71 L130.42 311.71 L131.23 311.71 L132.05 311.71 L132.87 311.71 L133.69 311.71 L134.5 311.71 L135.32 311.71 L136.14 311.71 L136.96 311.71 L137.77 311.71 L138.59 311.71 L139.41 311.71 L140.23 311.71 L141.04 311.71 L141.86 311.71 L142.68 311.71 L143.5 311.71 L144.31 311.71 L145.13 311.71 L145.95 311.71 L146.77 311.71 L147.58 311.71 L148.4 311.71 L149.22 311.71 L150.04 311.71 L150.85 311.71 L151.67 311.71 L152.49 311.71 L153.31 311.71 L154.12 311.71 L154.94 311.71 L155.76 311.71" fill="none" stroke="#111" stroke-width="1.25"/>
<line x1="57.66" y1="202.21" x2="57.66" y2="217.01" stroke="#333" stroke-width="0.7"/>
<line x1="55.86" y1="202.21" x2="59.46" y2="202.21" stroke="#333" stroke-width="0.7"/>
<line x1="55.86" y1="217.01" x2="59.46" y2="217.01" stroke="#333" stroke-width="0.7"/>
<line x1="69.92" y1="206.33" x2="69.92" y2="214.79" stroke="#333" stroke-width="0.7"/>
<line x1="68.12" y1="206.33" x2="71.72" y2="206.33" stroke="#333" stroke-width="0.7"/>
<line x1="68.12" y1="214.79" x2="71.72" y2="214.79" stroke="#333" stroke-width="0.7"/>
<line x1="94.44" y1="210.14" x2="94.44" y2="220.71" stroke="#333" stroke-width="0.7"/>
<line x1="92.64" y1="210.14" x2="96.24" y2="210.14" stroke="#333" stroke-width="0.7"/>
<line x1="92.64" y1="220.71" x2="96.24" y2="220.71" stroke="#333" stroke-width="0.7"/>
<line x1="106.72" y1="208.76" x2="106.72" y2="219.33" stroke="#333" stroke-width="0.7"/>
<line x1="104.92" y1="208.76" x2="108.52" y2="208.76" stroke="#333" stroke-width="0.7"/>
<line x1="104.92" y1="219.33" x2="108.52" y2="219.33" stroke="#333" stroke-width="0.7"/>
<line x1="82.18" y1="209.08" x2="82.18" y2="217.54" stroke="#333" stroke-width="0.7"/>
<line x1="80.38" y1="209.08" x2="83.98" y2="209.08" stroke="#333" stroke-width="0.7"/>
<line x1="80.38" y1="217.54" x2="83.98" y2="217.54" stroke="#333" stroke-width="0.7"/>
<line x1="143.5" y1="258.97" x2="143.5" y2="267.43" stroke="#333" stroke-width="0.7"/>
<line x1="141.7" y1="258.97" x2="145.3" y2="258.97" stroke="#333" stroke-width="0.7"/>
<line x1="141.7" y1="267.43" x2="145.3" y2="267.43" stroke="#333" stroke-width="0.7"/>
<line x1="118.98" y1="263.52" x2="118.98" y2="269.86" stroke="#333" stroke-width="0.7"/>
<line x1="117.18" y1="263.52" x2="120.78" y2="263.52" stroke="#333" stroke-width="0.7"/>
<line x1="117.18" y1="269.86" x2="120.78" y2="269.86" stroke="#333" stroke-width="0.7"/>
<line x1="155.76" y1="268.38" x2="155.76" y2="274.72" stroke="#333" stroke-width="0.7"/>
<line x1="153.96" y1="268.38" x2="157.56" y2="268.38" stroke="#333" stroke-width="0.7"/>
<line x1="153.96" y1="274.72" x2="157.56" y2="274.72" stroke="#333" stroke-width="0.7"/>
<line x1="57.66" y1="216.16" x2="57.66" y2="224.62" stroke="#333" stroke-width="0.7"/>
<line x1="55.86" y1="216.16" x2="59.46" y2="216.16" stroke="#333" stroke-width="0.7"/>
<line x1="55.86" y1="224.62" x2="59.46" y2="224.62" stroke="#333" stroke-width="0.7"/>
<rect x="55.66" y="218.39" width="4.0" height="4.0" fill="#111"/>
<rect x="67.92" y="253.9" width="4.0" height="4.0" fill="#111"/>
<rect x="80.18" y="290.69" width="4.0" height="4.0" fill="#111"/>
<rect x="92.44" y="306.33" width="4.0" height="4.0" fill="#111"/>
<rect x="104.72" y="308.45" width="4.0" height="4.0" fill="#111"/>
<rect x="116.98" y="309.4" width="4.0" height="4.0" fill="#111"/>
<rect x="129.24" y="309.71" width="4.0" height="4.0" fill="#111"/>
<rect x="141.5" y="309.71" width="4.0" height="4.0" fill="#111"/>
<rect x="153.76" y="309.71" width="4.0" height="4.0" fill="#111"/>
<circle cx="57.66" cy="220.39" r="2.0" fill="#111"/>
<circle cx="69.92" cy="225.78" r="2.0" fill="#111"/>
<circle cx="82.18" cy="239.73" r="2.0" fill="#111"/>
<circle cx="94.44" cy="255.9" r="2.0" fill="#111"/>
<circle cx="106.72" cy="267.85" r="2.0" fill="#111"/>
<circle cx="118.98" cy="266.69" r="2.0" fill="#111"/>
<circle cx="131.24" cy="275.67" r="2.0" fill="#111"/>
<circle cx="143.5" cy="276.52" r="2.0" fill="#111"/>
<circle cx="155.76" cy="271.55" r="2.0" fill="#111"/>
<rect x="55.56" y="207.51" width="4.2" height="4.2" fill="#fff" stroke="#111" stroke-width="1"/>
<rect x="67.82" y="208.46" width="4.2" height="4.2" fill="#fff" stroke="#111" stroke-width="1"/>
<rect x="80.08" y="211.21" width="4.2" height="4.2" fill="#fff" stroke="#111" stroke-width="1"/>
<rect x="92.34" y="213.32" width="4.2" height="4.2" fill="#fff" stroke="#111" stroke-width="1"/>
<rect x="104.62" y="211.95" width="4.2" height="4.2" fill="#fff" stroke="#111" stroke-width="1"/>
<rect x="116.88" y="214.06" width="4.2" height="4.2" fill="#fff" stroke="#111" stroke-width="1"/>
<rect x="129.14" y="214.06" width="4.2" height="4.2" fill="#fff" stroke="#111" stroke-width="1"/>
<rect x="141.4" y="299.26" width="4.2" height="4.2" fill="#fff" stroke="#111" stroke-width="1"/>
<rect x="153.66" y="309.3" width="4.2" height="4.2" fill="#fff" stroke="#111" stroke-width="1"/>
<path d="M57.66 210.07L60.26 212.67L57.66 215.27L55.06 212.67Z" fill="#fff" stroke="#111" stroke-width="1.1"/>
<path d="M69.92 210.71L72.52 213.31L69.92 215.91L67.32 213.31Z" fill="#fff" stroke="#111" stroke-width="1.1"/>
<path d="M82.18 210.71L84.78 213.31L82.18 215.91L79.58 213.31Z" fill="#fff" stroke="#111" stroke-width="1.1"/>
<path d="M94.44 223.18L97.04 225.78L94.44 228.38L91.84 225.78Z" fill="#fff" stroke="#111" stroke-width="1.1"/>
<path d="M106.72 233.64L109.32 236.24L106.72 238.84L104.12 236.24Z" fill="#fff" stroke="#111" stroke-width="1.1"/>
<path d="M118.98 251.72L121.58 254.32L118.98 256.92L116.38 254.32Z" fill="#fff" stroke="#111" stroke-width="1.1"/>
<path d="M131.24 255.21L133.84 257.81L131.24 260.41L128.64 257.81Z" fill="#fff" stroke="#111" stroke-width="1.1"/>
<path d="M143.5 260.6L146.1 263.2L143.5 265.8L140.9 263.2Z" fill="#fff" stroke="#111" stroke-width="1.1"/>
<path d="M155.76 260.6L158.36 263.2L155.76 265.8L153.16 263.2Z" fill="#fff" stroke="#111" stroke-width="1.1"/>
<line x1="204.7" y1="186.66" x2="204.7" y2="315.9" stroke="#111" stroke-width="1.2"/>
<line x1="204.1" y1="315.3" x2="334.05" y2="315.3" stroke="#111" stroke-width="1.2"/>
<line x1="201.3" y1="315.3" x2="204.7" y2="315.3" stroke="#111" stroke-width="1.0"/>
<text x="200.4" y="318.1" font-size="6.7" font-weight="bold" text-anchor="end" fill="#111" stroke="#111" stroke-width="0.25">0</text>
<line x1="201.3" y1="293.86" x2="204.7" y2="293.86" stroke="#111" stroke-width="1.0"/>
<text x="200.4" y="296.66" font-size="6.7" font-weight="bold" text-anchor="end" fill="#111" stroke="#111" stroke-width="0.25">20</text>
<line x1="201.3" y1="272.42" x2="204.7" y2="272.42" stroke="#111" stroke-width="1.0"/>
<text x="200.4" y="275.22" font-size="6.7" font-weight="bold" text-anchor="end" fill="#111" stroke="#111" stroke-width="0.25">40</text>
<line x1="201.3" y1="250.98" x2="204.7" y2="250.98" stroke="#111" stroke-width="1.0"/>
<text x="200.4" y="253.78" font-size="6.7" font-weight="bold" text-anchor="end" fill="#111" stroke="#111" stroke-width="0.25">60</text>
<line x1="201.3" y1="229.54" x2="204.7" y2="229.54" stroke="#111" stroke-width="1.0"/>
<text x="200.4" y="232.34" font-size="6.7" font-weight="bold" text-anchor="end" fill="#111" stroke="#111" stroke-width="0.25">80</text>
<line x1="201.3" y1="208.1" x2="204.7" y2="208.1" stroke="#111" stroke-width="1.0"/>
<text x="200.4" y="210.9" font-size="6.7" font-weight="bold" text-anchor="end" fill="#111" stroke="#111" stroke-width="0.25">100</text>
<line x1="201.3" y1="186.66" x2="204.7" y2="186.66" stroke="#111" stroke-width="1.0"/>
<text x="200.4" y="189.46" font-size="6.7" font-weight="bold" text-anchor="end" fill="#111" stroke="#111" stroke-width="0.25">120</text>
<line x1="204.7" y1="315.3" x2="204.7" y2="318.5" stroke="#111" stroke-width="1.0"/>
<text x="204.7" y="326.8" font-size="6.7" font-weight="bold" text-anchor="middle" fill="#111" stroke="#111" stroke-width="0.25">-12</text>
<line x1="212.45" y1="315.3" x2="212.45" y2="317.1" stroke="#111" stroke-width="0.8"/>
<line x1="216.99" y1="315.3" x2="216.99" y2="317.1" stroke="#111" stroke-width="0.8"/>
<line x1="220.2" y1="315.3" x2="220.2" y2="317.1" stroke="#111" stroke-width="0.8"/>
<line x1="222.7" y1="315.3" x2="222.7" y2="317.1" stroke="#111" stroke-width="0.8"/>
<line x1="224.74" y1="315.3" x2="224.74" y2="317.1" stroke="#111" stroke-width="0.8"/>
<line x1="226.46" y1="315.3" x2="226.46" y2="317.1" stroke="#111" stroke-width="0.8"/>
<line x1="227.95" y1="315.3" x2="227.95" y2="317.1" stroke="#111" stroke-width="0.8"/>
<line x1="229.27" y1="315.3" x2="229.27" y2="317.1" stroke="#111" stroke-width="0.8"/>
<line x1="230.45" y1="315.3" x2="230.45" y2="318.5" stroke="#111" stroke-width="1.0"/>
<text x="230.45" y="326.8" font-size="6.7" font-weight="bold" text-anchor="middle" fill="#111" stroke="#111" stroke-width="0.25">-11</text>
<line x1="238.2" y1="315.3" x2="238.2" y2="317.1" stroke="#111" stroke-width="0.8"/>
<line x1="242.74" y1="315.3" x2="242.74" y2="317.1" stroke="#111" stroke-width="0.8"/>
<line x1="245.95" y1="315.3" x2="245.95" y2="317.1" stroke="#111" stroke-width="0.8"/>
<line x1="248.45" y1="315.3" x2="248.45" y2="317.1" stroke="#111" stroke-width="0.8"/>
<line x1="250.49" y1="315.3" x2="250.49" y2="317.1" stroke="#111" stroke-width="0.8"/>
<line x1="252.21" y1="315.3" x2="252.21" y2="317.1" stroke="#111" stroke-width="0.8"/>
<line x1="253.7" y1="315.3" x2="253.7" y2="317.1" stroke="#111" stroke-width="0.8"/>
<line x1="255.02" y1="315.3" x2="255.02" y2="317.1" stroke="#111" stroke-width="0.8"/>
<line x1="256.2" y1="315.3" x2="256.2" y2="318.5" stroke="#111" stroke-width="1.0"/>
<text x="256.2" y="326.8" font-size="6.7" font-weight="bold" text-anchor="middle" fill="#111" stroke="#111" stroke-width="0.25">-10</text>
<line x1="263.95" y1="315.3" x2="263.95" y2="317.1" stroke="#111" stroke-width="0.8"/>
<line x1="268.49" y1="315.3" x2="268.49" y2="317.1" stroke="#111" stroke-width="0.8"/>
<line x1="271.7" y1="315.3" x2="271.7" y2="317.1" stroke="#111" stroke-width="0.8"/>
<line x1="274.2" y1="315.3" x2="274.2" y2="317.1" stroke="#111" stroke-width="0.8"/>
<line x1="276.24" y1="315.3" x2="276.24" y2="317.1" stroke="#111" stroke-width="0.8"/>
<line x1="277.96" y1="315.3" x2="277.96" y2="317.1" stroke="#111" stroke-width="0.8"/>
<line x1="279.45" y1="315.3" x2="279.45" y2="317.1" stroke="#111" stroke-width="0.8"/>
<line x1="280.77" y1="315.3" x2="280.77" y2="317.1" stroke="#111" stroke-width="0.8"/>
<line x1="281.95" y1="315.3" x2="281.95" y2="318.5" stroke="#111" stroke-width="1.0"/>
<text x="281.95" y="326.8" font-size="6.7" font-weight="bold" text-anchor="middle" fill="#111" stroke="#111" stroke-width="0.25">-9</text>
<line x1="289.7" y1="315.3" x2="289.7" y2="317.1" stroke="#111" stroke-width="0.8"/>
<line x1="294.24" y1="315.3" x2="294.24" y2="317.1" stroke="#111" stroke-width="0.8"/>
<line x1="297.45" y1="315.3" x2="297.45" y2="317.1" stroke="#111" stroke-width="0.8"/>
<line x1="299.95" y1="315.3" x2="299.95" y2="317.1" stroke="#111" stroke-width="0.8"/>
<line x1="301.99" y1="315.3" x2="301.99" y2="317.1" stroke="#111" stroke-width="0.8"/>
<line x1="303.71" y1="315.3" x2="303.71" y2="317.1" stroke="#111" stroke-width="0.8"/>
<line x1="305.2" y1="315.3" x2="305.2" y2="317.1" stroke="#111" stroke-width="0.8"/>
<line x1="306.52" y1="315.3" x2="306.52" y2="317.1" stroke="#111" stroke-width="0.8"/>
<line x1="307.7" y1="315.3" x2="307.7" y2="318.5" stroke="#111" stroke-width="1.0"/>
<text x="307.7" y="326.8" font-size="6.7" font-weight="bold" text-anchor="middle" fill="#111" stroke="#111" stroke-width="0.25">-8</text>
<line x1="315.45" y1="315.3" x2="315.45" y2="317.1" stroke="#111" stroke-width="0.8"/>
<line x1="319.99" y1="315.3" x2="319.99" y2="317.1" stroke="#111" stroke-width="0.8"/>
<line x1="323.2" y1="315.3" x2="323.2" y2="317.1" stroke="#111" stroke-width="0.8"/>
<line x1="325.7" y1="315.3" x2="325.7" y2="317.1" stroke="#111" stroke-width="0.8"/>
<line x1="327.74" y1="315.3" x2="327.74" y2="317.1" stroke="#111" stroke-width="0.8"/>
<line x1="329.46" y1="315.3" x2="329.46" y2="317.1" stroke="#111" stroke-width="0.8"/>
<line x1="330.95" y1="315.3" x2="330.95" y2="317.1" stroke="#111" stroke-width="0.8"/>
<line x1="332.27" y1="315.3" x2="332.27" y2="317.1" stroke="#111" stroke-width="0.8"/>
<line x1="333.45" y1="315.3" x2="333.45" y2="318.5" stroke="#111" stroke-width="1.0"/>
<text x="333.45" y="326.8" font-size="6.7" font-weight="bold" text-anchor="middle" fill="#111" stroke="#111" stroke-width="0.25">-7</text>
<text x="273.8" y="186.4" font-size="10.0" font-weight="bold" text-anchor="middle" fill="#111" textLength="64" lengthAdjust="spacingAndGlyphs" stroke="#111" stroke-width="0.25">JVM-2 (CLL)</text>
<text x="268.15" y="337.6" font-size="7.8" font-weight="bold" text-anchor="middle" fill="#111" textLength="103.7" lengthAdjust="spacingAndGlyphs" stroke="#111" stroke-width="0.25">log mAb concentration (M)</text>
<text x="186.9" y="247.95" font-size="8.3" font-weight="bold" text-anchor="middle" fill="#111" textLength="30.9" lengthAdjust="spacingAndGlyphs" transform="rotate(-90 186.9 247.95)" stroke="#111" stroke-width="0.25">viability</text>
<text x="186.9" y="267.1" font-size="8.3" font-weight="bold" text-anchor="middle" fill="#111" textLength="6.9" lengthAdjust="spacingAndGlyphs" transform="rotate(-90 186.9 267.1)" stroke="#111" stroke-width="0.25">%</text>
<path d="M221.69 206.49 L222.51 206.49 L223.33 206.49 L224.15 206.49 L224.97 206.49 L225.79 206.49 L226.61 206.49 L227.43 206.49 L228.25 206.49 L229.07 206.49 L229.89 206.49 L230.7 206.49 L231.52 206.49 L232.34 206.49 L233.16 206.49 L233.98 206.49 L234.8 206.49 L235.62 206.49 L236.44 206.49 L237.26 206.49 L238.08 206.49 L238.9 206.49 L239.71 206.49 L240.53 206.49 L241.35 206.49 L242.17 206.49 L242.99 206.49 L243.81 206.49 L244.63 206.49 L245.45 206.49 L246.27 206.49 L247.09 206.49 L247.91 206.49 L248.72 206.49 L249.54 206.49 L250.36 206.49 L251.18 206.49 L252 206.49 L252.82 206.49 L253.64 206.49 L254.46 206.49 L255.28 206.49 L256.1 206.49 L256.91 206.49 L257.73 206.49 L258.55 206.49 L259.37 206.49 L260.19 206.49 L261.01 206.49 L261.83 206.49 L262.65 206.49 L263.47 206.49 L264.29 206.49 L265.11 206.49 L265.92 206.49 L266.74 206.49 L267.56 206.49 L268.38 206.49 L269.2 206.49 L270.02 206.49 L270.84 206.49 L271.66 206.49 L272.48 206.49 L273.3 206.49 L274.12 206.49 L274.93 206.49 L275.75 206.49 L276.57 206.49 L277.39 206.49 L278.21 206.49 L279.03 206.49 L279.85 206.49 L280.67 206.49 L281.49 206.49 L282.31 206.49 L283.12 206.49 L283.94 206.49 L284.76 206.49 L285.58 206.49 L286.4 206.49 L287.22 206.49 L288.04 206.49 L288.86 206.49 L289.68 206.49 L290.5 206.49 L291.32 206.49 L292.13 206.49 L292.95 206.49 L293.77 206.49 L294.59 206.49 L295.41 206.49 L296.23 206.49 L297.05 206.5 L297.87 206.5 L298.69 206.5 L299.51 206.51 L300.33 206.51 L301.14 206.52 L301.96 206.54 L302.78 206.57 L303.6 206.61 L304.42 206.67 L305.24 206.78 L306.06 206.93 L306.88 207.17 L307.7 207.54 L308.52 208.11 L309.33 208.99 L310.15 210.32 L310.97 212.32 L311.79 215.27 L312.61 219.54 L313.43 225.48 L314.25 233.37 L315.07 243.2 L315.89 254.52 L316.71 266.43 L317.53 277.82 L318.34 287.78 L319.16 295.81 L319.98 301.89" fill="none" stroke="#111" stroke-width="1.25"/>
<path d="M221.69 197.7 L233.98 203.92 L246.26 208.1 L258.54 206.17 L270.85 208.85 L283.13 206.92 L295.42 210.89 L307.7 203.49 L319.98 210.35" fill="none" stroke="#111" stroke-width="1.25"/>
<path d="M221.69 217.3 L222.51 217.52 L223.33 217.76 L224.15 218.01 L224.97 218.28 L225.79 218.56 L226.61 218.85 L227.43 219.15 L228.25 219.47 L229.07 219.8 L229.89 220.15 L230.7 220.52 L231.52 220.9 L232.34 221.29 L233.16 221.7 L233.98 222.13 L234.8 222.57 L235.62 223.03 L236.44 223.51 L237.26 224 L238.08 224.5 L238.9 225.02 L239.71 225.56 L240.53 226.11 L241.35 226.67 L242.17 227.24 L242.99 227.83 L243.81 228.43 L244.63 229.04 L245.45 229.65 L246.27 230.28 L247.09 230.91 L247.91 231.55 L248.72 232.19 L249.54 232.84 L250.36 233.49 L251.18 234.14 L252 234.78 L252.82 235.43 L253.64 236.07 L254.46 236.71 L255.28 237.35 L256.1 237.97 L256.91 238.59 L257.73 239.2 L258.55 239.8 L259.37 240.38 L260.19 240.96 L261.01 241.52 L261.83 242.07 L262.65 242.61 L263.47 243.13 L264.29 243.63 L265.11 244.13 L265.92 244.6 L266.74 245.06 L267.56 245.5 L268.38 245.93 L269.2 246.34 L270.02 246.74 L270.84 247.12 L271.66 247.48 L272.48 247.83 L273.3 248.17 L274.12 248.49 L274.93 248.79 L275.75 249.09 L276.57 249.36 L277.39 249.63 L278.21 249.88 L279.03 250.12 L279.85 250.35 L280.67 250.56 L281.49 250.77 L282.31 250.96 L283.12 251.15 L283.94 251.32 L284.76 251.49 L285.58 251.65 L286.4 251.79 L287.22 251.93 L288.04 252.07 L288.86 252.19 L289.68 252.31 L290.5 252.42 L291.32 252.53 L292.13 252.63 L292.95 252.72 L293.77 252.81 L294.59 252.89 L295.41 252.97 L296.23 253.04 L297.05 253.11 L297.87 253.18 L298.69 253.24 L299.51 253.3 L300.33 253.35 L301.14 253.4 L301.96 253.45 L302.78 253.49 L303.6 253.54 L304.42 253.58 L305.24 253.62 L306.06 253.65 L306.88 253.68 L307.7 253.71 L308.52 253.74 L309.33 253.77 L310.15 253.8 L310.97 253.82 L311.79 253.85 L312.61 253.87 L313.43 253.89 L314.25 253.91 L315.07 253.92 L315.89 253.94 L316.71 253.96 L317.53 253.97 L318.34 253.98 L319.16 254 L319.98 254.01" fill="none" stroke="#111" stroke-width="1.25"/>
<path d="M221.69 221.02 L222.51 221.25 L223.33 221.51 L224.15 221.78 L224.97 222.08 L225.79 222.39 L226.61 222.72 L227.43 223.08 L228.25 223.46 L229.07 223.86 L229.89 224.3 L230.7 224.76 L231.52 225.25 L232.34 225.77 L233.16 226.32 L233.98 226.91 L234.8 227.53 L235.62 228.19 L236.44 228.89 L237.26 229.63 L238.08 230.41 L238.9 231.23 L239.71 232.1 L240.53 233.01 L241.35 233.97 L242.17 234.98 L242.99 236.03 L243.81 237.13 L244.63 238.28 L245.45 239.47 L246.27 240.72 L247.09 242.01 L247.91 243.35 L248.72 244.73 L249.54 246.16 L250.36 247.62 L251.18 249.13 L252 250.67 L252.82 252.25 L253.64 253.86 L254.46 255.49 L255.28 257.15 L256.1 258.82 L256.91 260.51 L257.73 262.21 L258.55 263.92 L259.37 265.62 L260.19 267.33 L261.01 269.02 L261.83 270.71 L262.65 272.38 L263.47 274.02 L264.29 275.64 L265.11 277.24 L265.92 278.8 L266.74 280.32 L267.56 281.81 L268.38 283.26 L269.2 284.67 L270.02 286.03 L270.84 287.35 L271.66 288.62 L272.48 289.84 L273.3 291.01 L274.12 292.14 L274.93 293.22 L275.75 294.25 L276.57 295.23 L277.39 296.17 L278.21 297.06 L279.03 297.91 L279.85 298.71 L280.67 299.47 L281.49 300.19 L282.31 300.87 L283.12 301.52 L283.94 302.12 L284.76 302.7 L285.58 303.23 L286.4 303.74 L287.22 304.22 L288.04 304.66 L288.86 305.08 L289.68 305.48 L290.5 305.85 L291.32 306.19 L292.13 306.52 L292.95 306.82 L293.77 307.1 L294.59 307.37 L295.41 307.62 L296.23 307.85 L297.05 308.06 L297.87 308.27 L298.69 308.46 L299.51 308.63 L300.33 308.8 L301.14 308.95 L301.96 309.09 L302.78 309.22 L303.6 309.35 L304.42 309.46 L305.24 309.57 L306.06 309.67 L306.88 309.77 L307.7 309.85 L308.52 309.93 L309.33 310.01 L310.15 310.08 L310.97 310.14 L311.79 310.2 L312.61 310.26 L313.43 310.31 L314.25 310.36 L315.07 310.41 L315.89 310.45 L316.71 310.49 L317.53 310.53 L318.34 310.56 L319.16 310.59 L319.98 310.62" fill="none" stroke="#111" stroke-width="1.25"/>
<line x1="258.54" y1="196.95" x2="258.54" y2="207.67" stroke="#333" stroke-width="0.7"/>
<line x1="256.74" y1="196.95" x2="260.34" y2="196.95" stroke="#333" stroke-width="0.7"/>
<line x1="256.74" y1="207.67" x2="260.34" y2="207.67" stroke="#333" stroke-width="0.7"/>
<line x1="283.13" y1="196.95" x2="283.13" y2="205.53" stroke="#333" stroke-width="0.7"/>
<line x1="281.33" y1="196.95" x2="284.93" y2="196.95" stroke="#333" stroke-width="0.7"/>
<line x1="281.33" y1="205.53" x2="284.93" y2="205.53" stroke="#333" stroke-width="0.7"/>
<line x1="307.7" y1="197.27" x2="307.7" y2="216.57" stroke="#333" stroke-width="0.7"/>
<line x1="305.9" y1="197.27" x2="309.5" y2="197.27" stroke="#333" stroke-width="0.7"/>
<line x1="305.9" y1="216.57" x2="309.5" y2="216.57" stroke="#333" stroke-width="0.7"/>
<line x1="221.69" y1="186.98" x2="221.69" y2="208.42" stroke="#333" stroke-width="0.7"/>
<line x1="219.89" y1="186.98" x2="223.5" y2="186.98" stroke="#333" stroke-width="0.7"/>
<line x1="219.89" y1="208.42" x2="223.5" y2="208.42" stroke="#333" stroke-width="0.7"/>
<line x1="319.98" y1="207.14" x2="319.98" y2="213.57" stroke="#333" stroke-width="0.7"/>
<line x1="318.18" y1="207.14" x2="321.78" y2="207.14" stroke="#333" stroke-width="0.7"/>
<line x1="318.18" y1="213.57" x2="321.78" y2="213.57" stroke="#333" stroke-width="0.7"/>
<line x1="221.69" y1="216.03" x2="221.69" y2="222.46" stroke="#333" stroke-width="0.7"/>
<line x1="219.89" y1="216.03" x2="223.5" y2="216.03" stroke="#333" stroke-width="0.7"/>
<line x1="219.89" y1="222.46" x2="223.5" y2="222.46" stroke="#333" stroke-width="0.7"/>
<line x1="258.54" y1="255.48" x2="258.54" y2="264.06" stroke="#333" stroke-width="0.7"/>
<line x1="256.74" y1="255.48" x2="260.34" y2="255.48" stroke="#333" stroke-width="0.7"/>
<line x1="256.74" y1="264.06" x2="260.34" y2="264.06" stroke="#333" stroke-width="0.7"/>
<line x1="270.85" y1="284.96" x2="270.85" y2="289.25" stroke="#333" stroke-width="0.7"/>
<line x1="269.05" y1="284.96" x2="272.65" y2="284.96" stroke="#333" stroke-width="0.7"/>
<line x1="269.05" y1="289.25" x2="272.65" y2="289.25" stroke="#333" stroke-width="0.7"/>
<rect x="219.69" y="217.25" width="4.0" height="4.0" fill="#111"/>
<rect x="231.98" y="222.72" width="4.0" height="4.0" fill="#111"/>
<rect x="244.26" y="238.26" width="4.0" height="4.0" fill="#111"/>
<rect x="256.54" y="257.77" width="4.0" height="4.0" fill="#111"/>
<rect x="268.85" y="285.11" width="4.0" height="4.0" fill="#111"/>
<rect x="281.13" y="294.22" width="4.0" height="4.0" fill="#111"/>
<rect x="293.42" y="301.08" width="4.0" height="4.0" fill="#111"/>
<rect x="305.7" y="305.05" width="4.0" height="4.0" fill="#111"/>
<rect x="317.98" y="309.33" width="4.0" height="4.0" fill="#111"/>
<circle cx="221.69" cy="216.35" r="2.0" fill="#111"/>
<circle cx="233.98" cy="222.14" r="2.0" fill="#111"/>
<circle cx="246.26" cy="234.36" r="2.0" fill="#111"/>
<circle cx="258.54" cy="239.83" r="2.0" fill="#111"/>
<circle cx="270.85" cy="251.73" r="2.0" fill="#111"/>
<circle cx="283.13" cy="254.95" r="2.0" fill="#111"/>
<circle cx="295.42" cy="255.38" r="2.0" fill="#111"/>
<circle cx="307.7" cy="253.87" r="2.0" fill="#111"/>
<circle cx="319.98" cy="248.51" r="2.0" fill="#111"/>
<rect x="219.59" y="201.39" width="4.2" height="4.2" fill="#fff" stroke="#111" stroke-width="1"/>
<rect x="231.88" y="210.18" width="4.2" height="4.2" fill="#fff" stroke="#111" stroke-width="1"/>
<rect x="244.16" y="203.75" width="4.2" height="4.2" fill="#fff" stroke="#111" stroke-width="1"/>
<rect x="256.44" y="200.21" width="4.2" height="4.2" fill="#fff" stroke="#111" stroke-width="1"/>
<rect x="268.75" y="206.75" width="4.2" height="4.2" fill="#fff" stroke="#111" stroke-width="1"/>
<rect x="281.03" y="199.14" width="4.2" height="4.2" fill="#fff" stroke="#111" stroke-width="1"/>
<rect x="293.32" y="203.75" width="4.2" height="4.2" fill="#fff" stroke="#111" stroke-width="1"/>
<rect x="305.6" y="204.82" width="4.2" height="4.2" fill="#fff" stroke="#111" stroke-width="1"/>
<rect x="317.88" y="292.3" width="4.2" height="4.2" fill="#fff" stroke="#111" stroke-width="1"/>
<path d="M221.69 195.1L224.29 197.7L221.69 200.3L219.09 197.7Z" fill="#fff" stroke="#111" stroke-width="1.1"/>
<path d="M233.98 201.32L236.58 203.92L233.98 206.52L231.38 203.92Z" fill="#fff" stroke="#111" stroke-width="1.1"/>
<path d="M246.26 205.5L248.86 208.1L246.26 210.7L243.66 208.1Z" fill="#fff" stroke="#111" stroke-width="1.1"/>
<path d="M258.54 203.57L261.14 206.17L258.54 208.77L255.94 206.17Z" fill="#fff" stroke="#111" stroke-width="1.1"/>
<path d="M270.85 206.25L273.45 208.85L270.85 211.45L268.25 208.85Z" fill="#fff" stroke="#111" stroke-width="1.1"/>
<path d="M283.13 204.32L285.73 206.92L283.13 209.52L280.53 206.92Z" fill="#fff" stroke="#111" stroke-width="1.1"/>
<path d="M295.42 208.29L298.02 210.89L295.42 213.49L292.82 210.89Z" fill="#fff" stroke="#111" stroke-width="1.1"/>
<path d="M307.7 200.89L310.3 203.49L307.7 206.09L305.1 203.49Z" fill="#fff" stroke="#111" stroke-width="1.1"/>
<path d="M319.98 207.75L322.58 210.35L319.98 212.95L317.38 210.35Z" fill="#fff" stroke="#111" stroke-width="1.1"/>
<line x1="372.6" y1="186.46" x2="372.6" y2="315.7" stroke="#111" stroke-width="1.2"/>
<line x1="372" y1="315.1" x2="501.95" y2="315.1" stroke="#111" stroke-width="1.2"/>
<line x1="369.2" y1="315.1" x2="372.6" y2="315.1" stroke="#111" stroke-width="1.0"/>
<text x="368.3" y="317.9" font-size="6.7" font-weight="bold" text-anchor="end" fill="#111" stroke="#111" stroke-width="0.25">0</text>
<line x1="369.2" y1="293.66" x2="372.6" y2="293.66" stroke="#111" stroke-width="1.0"/>
<text x="368.3" y="296.46" font-size="6.7" font-weight="bold" text-anchor="end" fill="#111" stroke="#111" stroke-width="0.25">20</text>
<line x1="369.2" y1="272.22" x2="372.6" y2="272.22" stroke="#111" stroke-width="1.0"/>
<text x="368.3" y="275.02" font-size="6.7" font-weight="bold" text-anchor="end" fill="#111" stroke="#111" stroke-width="0.25">40</text>
<line x1="369.2" y1="250.78" x2="372.6" y2="250.78" stroke="#111" stroke-width="1.0"/>
<text x="368.3" y="253.58" font-size="6.7" font-weight="bold" text-anchor="end" fill="#111" stroke="#111" stroke-width="0.25">60</text>
<line x1="369.2" y1="229.34" x2="372.6" y2="229.34" stroke="#111" stroke-width="1.0"/>
<text x="368.3" y="232.14" font-size="6.7" font-weight="bold" text-anchor="end" fill="#111" stroke="#111" stroke-width="0.25">80</text>
<line x1="369.2" y1="207.9" x2="372.6" y2="207.9" stroke="#111" stroke-width="1.0"/>
<text x="368.3" y="210.7" font-size="6.7" font-weight="bold" text-anchor="end" fill="#111" stroke="#111" stroke-width="0.25">100</text>
<line x1="369.2" y1="186.46" x2="372.6" y2="186.46" stroke="#111" stroke-width="1.0"/>
<text x="368.3" y="189.26" font-size="6.7" font-weight="bold" text-anchor="end" fill="#111" stroke="#111" stroke-width="0.25">120</text>
<line x1="372.6" y1="315.1" x2="372.6" y2="318.3" stroke="#111" stroke-width="1.0"/>
<text x="372.6" y="325.7" font-size="6.7" font-weight="bold" text-anchor="middle" fill="#111" stroke="#111" stroke-width="0.25">-12</text>
<line x1="380.35" y1="315.1" x2="380.35" y2="316.9" stroke="#111" stroke-width="0.8"/>
<line x1="384.89" y1="315.1" x2="384.89" y2="316.9" stroke="#111" stroke-width="0.8"/>
<line x1="388.1" y1="315.1" x2="388.1" y2="316.9" stroke="#111" stroke-width="0.8"/>
<line x1="390.6" y1="315.1" x2="390.6" y2="316.9" stroke="#111" stroke-width="0.8"/>
<line x1="392.64" y1="315.1" x2="392.64" y2="316.9" stroke="#111" stroke-width="0.8"/>
<line x1="394.36" y1="315.1" x2="394.36" y2="316.9" stroke="#111" stroke-width="0.8"/>
<line x1="395.85" y1="315.1" x2="395.85" y2="316.9" stroke="#111" stroke-width="0.8"/>
<line x1="397.17" y1="315.1" x2="397.17" y2="316.9" stroke="#111" stroke-width="0.8"/>
<line x1="398.35" y1="315.1" x2="398.35" y2="318.3" stroke="#111" stroke-width="1.0"/>
<text x="398.35" y="325.7" font-size="6.7" font-weight="bold" text-anchor="middle" fill="#111" stroke="#111" stroke-width="0.25">-11</text>
<line x1="406.1" y1="315.1" x2="406.1" y2="316.9" stroke="#111" stroke-width="0.8"/>
<line x1="410.64" y1="315.1" x2="410.64" y2="316.9" stroke="#111" stroke-width="0.8"/>
<line x1="413.85" y1="315.1" x2="413.85" y2="316.9" stroke="#111" stroke-width="0.8"/>
<line x1="416.35" y1="315.1" x2="416.35" y2="316.9" stroke="#111" stroke-width="0.8"/>
<line x1="418.39" y1="315.1" x2="418.39" y2="316.9" stroke="#111" stroke-width="0.8"/>
<line x1="420.11" y1="315.1" x2="420.11" y2="316.9" stroke="#111" stroke-width="0.8"/>
<line x1="421.6" y1="315.1" x2="421.6" y2="316.9" stroke="#111" stroke-width="0.8"/>
<line x1="422.92" y1="315.1" x2="422.92" y2="316.9" stroke="#111" stroke-width="0.8"/>
<line x1="424.1" y1="315.1" x2="424.1" y2="318.3" stroke="#111" stroke-width="1.0"/>
<text x="424.1" y="325.7" font-size="6.7" font-weight="bold" text-anchor="middle" fill="#111" stroke="#111" stroke-width="0.25">-10</text>
<line x1="431.85" y1="315.1" x2="431.85" y2="316.9" stroke="#111" stroke-width="0.8"/>
<line x1="436.39" y1="315.1" x2="436.39" y2="316.9" stroke="#111" stroke-width="0.8"/>
<line x1="439.6" y1="315.1" x2="439.6" y2="316.9" stroke="#111" stroke-width="0.8"/>
<line x1="442.1" y1="315.1" x2="442.1" y2="316.9" stroke="#111" stroke-width="0.8"/>
<line x1="444.14" y1="315.1" x2="444.14" y2="316.9" stroke="#111" stroke-width="0.8"/>
<line x1="445.86" y1="315.1" x2="445.86" y2="316.9" stroke="#111" stroke-width="0.8"/>
<line x1="447.35" y1="315.1" x2="447.35" y2="316.9" stroke="#111" stroke-width="0.8"/>
<line x1="448.67" y1="315.1" x2="448.67" y2="316.9" stroke="#111" stroke-width="0.8"/>
<line x1="449.85" y1="315.1" x2="449.85" y2="318.3" stroke="#111" stroke-width="1.0"/>
<text x="449.85" y="325.7" font-size="6.7" font-weight="bold" text-anchor="middle" fill="#111" stroke="#111" stroke-width="0.25">-9</text>
<line x1="457.6" y1="315.1" x2="457.6" y2="316.9" stroke="#111" stroke-width="0.8"/>
<line x1="462.14" y1="315.1" x2="462.14" y2="316.9" stroke="#111" stroke-width="0.8"/>
<line x1="465.35" y1="315.1" x2="465.35" y2="316.9" stroke="#111" stroke-width="0.8"/>
<line x1="467.85" y1="315.1" x2="467.85" y2="316.9" stroke="#111" stroke-width="0.8"/>
<line x1="469.89" y1="315.1" x2="469.89" y2="316.9" stroke="#111" stroke-width="0.8"/>
<line x1="471.61" y1="315.1" x2="471.61" y2="316.9" stroke="#111" stroke-width="0.8"/>
<line x1="473.1" y1="315.1" x2="473.1" y2="316.9" stroke="#111" stroke-width="0.8"/>
<line x1="474.42" y1="315.1" x2="474.42" y2="316.9" stroke="#111" stroke-width="0.8"/>
<line x1="475.6" y1="315.1" x2="475.6" y2="318.3" stroke="#111" stroke-width="1.0"/>
<text x="475.6" y="325.7" font-size="6.7" font-weight="bold" text-anchor="middle" fill="#111" stroke="#111" stroke-width="0.25">-8</text>
<line x1="483.35" y1="315.1" x2="483.35" y2="316.9" stroke="#111" stroke-width="0.8"/>
<line x1="487.89" y1="315.1" x2="487.89" y2="316.9" stroke="#111" stroke-width="0.8"/>
<line x1="491.1" y1="315.1" x2="491.1" y2="316.9" stroke="#111" stroke-width="0.8"/>
<line x1="493.6" y1="315.1" x2="493.6" y2="316.9" stroke="#111" stroke-width="0.8"/>
<line x1="495.64" y1="315.1" x2="495.64" y2="316.9" stroke="#111" stroke-width="0.8"/>
<line x1="497.36" y1="315.1" x2="497.36" y2="316.9" stroke="#111" stroke-width="0.8"/>
<line x1="498.85" y1="315.1" x2="498.85" y2="316.9" stroke="#111" stroke-width="0.8"/>
<line x1="500.17" y1="315.1" x2="500.17" y2="316.9" stroke="#111" stroke-width="0.8"/>
<line x1="501.35" y1="315.1" x2="501.35" y2="318.3" stroke="#111" stroke-width="1.0"/>
<text x="501.35" y="325.7" font-size="6.7" font-weight="bold" text-anchor="middle" fill="#111" stroke="#111" stroke-width="0.25">-7</text>
<text x="439.9" y="185.9" font-size="10.0" font-weight="bold" text-anchor="middle" fill="#111" textLength="73.6" lengthAdjust="spacingAndGlyphs" stroke="#111" stroke-width="0.25">Molt-4 (T-ALL)</text>
<text x="439.7" y="199.2" font-size="10.0" font-weight="bold" text-anchor="middle" fill="#111" textLength="73.2" lengthAdjust="spacingAndGlyphs" stroke="#111" stroke-width="0.25">CD37 negative</text>
<text x="436.25" y="337.6" font-size="7.8" font-weight="bold" text-anchor="middle" fill="#111" textLength="103.5" lengthAdjust="spacingAndGlyphs" stroke="#111" stroke-width="0.25">log mAb concentration (M)</text>
<text x="354.3" y="247.15" font-size="8.3" font-weight="bold" text-anchor="middle" fill="#111" textLength="29.9" lengthAdjust="spacingAndGlyphs" transform="rotate(-90 354.3 247.15)" stroke="#111" stroke-width="0.25">viability</text>
<text x="354.3" y="266.25" font-size="8.3" font-weight="bold" text-anchor="middle" fill="#111" textLength="7" lengthAdjust="spacingAndGlyphs" transform="rotate(-90 354.3 266.25)" stroke="#111" stroke-width="0.25">%</text>
<path d="M403.06 220.76 L403.88 220.76 L404.7 220.76 L405.52 220.76 L406.34 220.76 L407.16 220.76 L407.98 220.76 L408.8 220.76 L409.61 220.76 L410.43 220.76 L411.25 220.76 L412.07 220.76 L412.89 220.76 L413.71 220.76 L414.53 220.76 L415.35 220.76 L416.17 220.76 L416.99 220.76 L417.81 220.76 L418.62 220.76 L419.44 220.76 L420.26 220.76 L421.08 220.76 L421.9 220.76 L422.72 220.76 L423.54 220.76 L424.36 220.76 L425.18 220.76 L426 220.76 L426.82 220.76 L427.63 220.76 L428.45 220.76 L429.27 220.76 L430.09 220.76 L430.91 220.76 L431.73 220.76 L432.55 220.76 L433.37 220.76 L434.19 220.76 L435.01 220.76 L435.82 220.76 L436.64 220.76 L437.46 220.76 L438.28 220.76 L439.1 220.76 L439.92 220.76 L440.74 220.76 L441.56 220.76 L442.38 220.76 L443.2 220.76 L444.02 220.76 L444.83 220.76 L445.65 220.76 L446.47 220.76 L447.29 220.76 L448.11 220.76 L448.93 220.76 L449.75 220.76 L450.57 220.76 L451.39 220.76 L452.21 220.76 L453.03 220.76 L453.84 220.76 L454.66 220.76 L455.48 220.76 L456.3 220.76 L457.12 220.76 L457.94 220.76 L458.76 220.76 L459.58 220.76 L460.4 220.76 L461.22 220.76 L462.03 220.76 L462.85 220.76 L463.67 220.76 L464.49 220.76 L465.31 220.76 L466.13 220.76 L466.95 220.76 L467.77 220.76 L468.59 220.76 L469.41 220.76 L470.23 220.76 L471.04 220.76 L471.86 220.76 L472.68 220.76 L473.5 220.77 L474.32 220.77 L475.14 220.77 L475.96 220.77 L476.78 220.77 L477.6 220.78 L478.42 220.79 L479.24 220.81 L480.05 220.85 L480.87 220.91 L481.69 221.01 L482.51 221.2 L483.33 221.51 L484.15 222.05 L484.97 222.97 L485.79 224.52 L486.61 227.08 L487.43 231.19 L488.24 237.47 L489.06 246.39 L489.88 257.78 L490.7 270.57 L491.52 282.99 L492.34 293.44 L493.16 301.25 L493.98 306.58 L494.8 309.98 L495.62 312.08 L496.44 313.33 L497.25 314.07 L498.07 314.5 L498.89 314.75 L499.71 314.9 L500.53 314.98 L501.35 315.03" fill="none" stroke="#111" stroke-width="1.5"/>
<path d="M403.06 220.76 L403.88 220.76 L404.7 220.76 L405.52 220.76 L406.34 220.76 L407.16 220.76 L407.98 220.76 L408.8 220.76 L409.61 220.76 L410.43 220.76 L411.25 220.76 L412.07 220.76 L412.89 220.76 L413.71 220.76 L414.53 220.76 L415.35 220.76 L416.17 220.76 L416.99 220.76 L417.81 220.76 L418.62 220.76 L419.44 220.76 L420.26 220.76 L421.08 220.76 L421.9 220.76 L422.72 220.76 L423.54 220.76 L424.36 220.76 L425.18 220.76 L426 220.76 L426.82 220.76 L427.63 220.76 L428.45 220.76 L429.27 220.76 L430.09 220.76 L430.91 220.76 L431.73 220.76 L432.55 220.76 L433.37 220.76 L434.19 220.76 L435.01 220.76 L435.82 220.76 L436.64 220.76 L437.46 220.76 L438.28 220.76 L439.1 220.76 L439.92 220.76 L440.74 220.76 L441.56 220.76 L442.38 220.76 L443.2 220.76 L444.02 220.76 L444.83 220.76 L445.65 220.76 L446.47 220.76 L447.29 220.76 L448.11 220.76 L448.93 220.76 L449.75 220.76 L450.57 220.76 L451.39 220.76 L452.21 220.76 L453.03 220.76 L453.84 220.76 L454.66 220.76 L455.48 220.76 L456.3 220.76 L457.12 220.76 L457.94 220.76 L458.76 220.76 L459.58 220.76 L460.4 220.76 L461.22 220.76 L462.03 220.76 L462.85 220.76 L463.67 220.76 L464.49 220.76 L465.31 220.76 L466.13 220.76 L466.95 220.76 L467.77 220.76 L468.59 220.76 L469.41 220.76 L470.23 220.76 L471.04 220.76 L471.86 220.76 L472.68 220.76 L473.5 220.77 L474.32 220.77 L475.14 220.77 L475.96 220.77 L476.78 220.78 L477.6 220.78 L478.42 220.8 L479.24 220.82 L480.05 220.86 L480.87 220.94 L481.69 221.06 L482.51 221.28 L483.33 221.65 L484.15 222.29 L484.97 223.37 L485.79 225.19 L486.61 228.18 L487.43 232.91 L488.24 239.98 L489.06 249.73 L489.88 261.73 L490.7 274.6 L491.52 286.54 L492.34 296.19 L493.16 303.17 L493.98 307.82 L494.8 310.76 L495.62 312.54 L496.44 313.61 L497.25 314.23 L498.07 314.6 L498.89 314.81 L499.71 314.93 L500.53 315 L501.35 315.04" fill="none" stroke="#111" stroke-width="1.5"/>
<line x1="403.06" y1="210.15" x2="403.06" y2="216.58" stroke="#333" stroke-width="0.7"/>
<line x1="401.26" y1="210.15" x2="404.86" y2="210.15" stroke="#333" stroke-width="0.7"/>
<line x1="401.26" y1="216.58" x2="404.86" y2="216.58" stroke="#333" stroke-width="0.7"/>
<line x1="452.19" y1="223.98" x2="452.19" y2="230.41" stroke="#333" stroke-width="0.7"/>
<line x1="450.39" y1="223.98" x2="453.99" y2="223.98" stroke="#333" stroke-width="0.7"/>
<line x1="450.39" y1="230.41" x2="453.99" y2="230.41" stroke="#333" stroke-width="0.7"/>
<line x1="489.07" y1="249.17" x2="489.07" y2="257.75" stroke="#333" stroke-width="0.7"/>
<line x1="487.27" y1="249.17" x2="490.87" y2="249.17" stroke="#333" stroke-width="0.7"/>
<line x1="487.27" y1="257.75" x2="490.87" y2="257.75" stroke="#333" stroke-width="0.7"/>
<line x1="439.91" y1="219.37" x2="439.91" y2="225.8" stroke="#333" stroke-width="0.7"/>
<line x1="438.11" y1="219.37" x2="441.71" y2="219.37" stroke="#333" stroke-width="0.7"/>
<line x1="438.11" y1="225.8" x2="441.71" y2="225.8" stroke="#333" stroke-width="0.7"/>
<rect x="401.06" y="211.37" width="4.0" height="4.0" fill="#111"/>
<rect x="413.35" y="215.98" width="4.0" height="4.0" fill="#111"/>
<rect x="425.63" y="218.34" width="4.0" height="4.0" fill="#111"/>
<rect x="437.91" y="220.59" width="4.0" height="4.0" fill="#111"/>
<rect x="450.19" y="225.2" width="4.0" height="4.0" fill="#111"/>
<rect x="462.5" y="219.94" width="4.0" height="4.0" fill="#111"/>
<rect x="474.78" y="222.19" width="4.0" height="4.0" fill="#111"/>
<rect x="487.07" y="251.46" width="4.0" height="4.0" fill="#111"/>
<rect x="499.35" y="312.89" width="4.0" height="4.0" fill="#111"/>
<rect x="400.96" y="213.63" width="4.2" height="4.2" fill="#fff" stroke="#111" stroke-width="1"/>
<rect x="413.25" y="215.88" width="4.2" height="4.2" fill="#fff" stroke="#111" stroke-width="1"/>
<rect x="425.53" y="218.24" width="4.2" height="4.2" fill="#fff" stroke="#111" stroke-width="1"/>
<rect x="437.81" y="220.49" width="4.2" height="4.2" fill="#fff" stroke="#111" stroke-width="1"/>
<rect x="450.09" y="221.02" width="4.2" height="4.2" fill="#fff" stroke="#111" stroke-width="1"/>
<rect x="462.4" y="221.45" width="4.2" height="4.2" fill="#fff" stroke="#111" stroke-width="1"/>
<rect x="474.68" y="222.09" width="4.2" height="4.2" fill="#fff" stroke="#111" stroke-width="1"/>
<rect x="486.97" y="239.89" width="4.2" height="4.2" fill="#fff" stroke="#111" stroke-width="1"/>
<rect x="499.25" y="312.79" width="4.2" height="4.2" fill="#fff" stroke="#111" stroke-width="1"/>
<line x1="55.2" y1="361.5" x2="290.9" y2="361.5" stroke="#111" stroke-width="1.1"/>
<line x1="290.9" y1="361" x2="290.9" y2="503.2" stroke="#111" stroke-width="1.1"/>
<line x1="55.2" y1="361" x2="55.2" y2="503.2" stroke="#111" stroke-width="1.1"/>
<line x1="54.7" y1="502.7" x2="291.4" y2="502.7" stroke="#111" stroke-width="1.1"/>
<line x1="51.9" y1="502.7" x2="55.2" y2="502.7" stroke="#111" stroke-width="1.0"/>
<text x="50" y="505.6" font-size="8.0" font-weight="bold" text-anchor="end" fill="#111" textLength="3.6" lengthAdjust="spacingAndGlyphs" stroke="#111" stroke-width="0.25">0</text>
<line x1="51.9" y1="474.46" x2="55.2" y2="474.46" stroke="#111" stroke-width="1.0"/>
<text x="50" y="477.36" font-size="8.0" font-weight="bold" text-anchor="end" fill="#111" textLength="28.7" lengthAdjust="spacingAndGlyphs" stroke="#111" stroke-width="0.25">100,000</text>
<line x1="51.9" y1="446.22" x2="55.2" y2="446.22" stroke="#111" stroke-width="1.0"/>
<text x="50" y="449.12" font-size="8.0" font-weight="bold" text-anchor="end" fill="#111" textLength="28.7" lengthAdjust="spacingAndGlyphs" stroke="#111" stroke-width="0.25">200,000</text>
<line x1="51.9" y1="417.98" x2="55.2" y2="417.98" stroke="#111" stroke-width="1.0"/>
<text x="50" y="420.88" font-size="8.0" font-weight="bold" text-anchor="end" fill="#111" textLength="28.7" lengthAdjust="spacingAndGlyphs" stroke="#111" stroke-width="0.25">300,000</text>
<line x1="51.9" y1="389.74" x2="55.2" y2="389.74" stroke="#111" stroke-width="1.0"/>
<text x="50" y="392.64" font-size="8.0" font-weight="bold" text-anchor="end" fill="#111" textLength="28.7" lengthAdjust="spacingAndGlyphs" stroke="#111" stroke-width="0.25">400,000</text>
<line x1="51.9" y1="361.5" x2="55.2" y2="361.5" stroke="#111" stroke-width="1.0"/>
<text x="50" y="364.4" font-size="8.0" font-weight="bold" text-anchor="end" fill="#111" textLength="28.7" lengthAdjust="spacingAndGlyphs" stroke="#111" stroke-width="0.25">500,000</text>
<text x="14.3" y="432.2" font-size="9.2" font-weight="bold" text-anchor="middle" fill="#111" textLength="51" lengthAdjust="spacingAndGlyphs" transform="rotate(-90 14.3 432.2)" stroke="#111" stroke-width="0.25">ABC values</text>
<line x1="60.6" y1="502.7" x2="60.6" y2="506.3" stroke="#111" stroke-width="1.0"/>
<rect x="57.95" y="467.77" width="5.3" height="34.93" fill="#111"/>
<line x1="60.6" y1="463.45" x2="60.6" y2="467.77" stroke="#444" stroke-width="0.7"/>
<line x1="59" y1="463.45" x2="62.2" y2="463.45" stroke="#444" stroke-width="0.7"/>
<text x="63.9" y="507.9" font-size="9.2" font-weight="bold" text-anchor="end" fill="#111" transform="rotate(-90 63.9 507.9)" stroke="#111" stroke-width="0.25">Ramos</text>
<line x1="71.35" y1="502.7" x2="71.35" y2="506.3" stroke="#111" stroke-width="1.0"/>
<rect x="68.7" y="401.15" width="5.3" height="101.55" fill="#111"/>
<line x1="71.35" y1="377.6" x2="71.35" y2="401.15" stroke="#444" stroke-width="0.7"/>
<line x1="69.75" y1="377.6" x2="72.95" y2="377.6" stroke="#444" stroke-width="0.7"/>
<text x="74.65" y="507.9" font-size="9.2" font-weight="bold" text-anchor="end" fill="#111" transform="rotate(-90 74.65 507.9)" stroke="#111" stroke-width="0.25">Daudi</text>
<line x1="82.1" y1="502.7" x2="82.1" y2="506.3" stroke="#111" stroke-width="1.0"/>
<rect x="79.45" y="479.66" width="5.3" height="23.04" fill="#111"/>
<line x1="82.1" y1="476.72" x2="82.1" y2="479.66" stroke="#444" stroke-width="0.7"/>
<line x1="80.5" y1="476.72" x2="83.7" y2="476.72" stroke="#444" stroke-width="0.7"/>
<text x="85.4" y="507.9" font-size="9.2" font-weight="bold" text-anchor="end" fill="#111" transform="rotate(-90 85.4 507.9)" stroke="#111" stroke-width="0.25">Raji</text>
<line x1="92.85" y1="502.7" x2="92.85" y2="506.3" stroke="#111" stroke-width="1.0"/>
<rect x="90.2" y="452.72" width="5.3" height="49.98" fill="#111"/>
<line x1="92.85" y1="438.88" x2="92.85" y2="452.72" stroke="#444" stroke-width="0.7"/>
<line x1="91.25" y1="438.88" x2="94.45" y2="438.88" stroke="#444" stroke-width="0.7"/>
<text x="96.15" y="507.9" font-size="9.2" font-weight="bold" text-anchor="end" fill="#111" transform="rotate(-90 96.15 507.9)" stroke="#111" stroke-width="0.25">BJAB</text>
<line x1="103.6" y1="502.7" x2="103.6" y2="506.3" stroke="#111" stroke-width="1.0"/>
<rect x="100.95" y="494.62" width="5.3" height="8.08" fill="#111"/>
<line x1="103.6" y1="492.82" x2="103.6" y2="494.62" stroke="#444" stroke-width="0.7"/>
<line x1="102" y1="492.82" x2="105.2" y2="492.82" stroke="#444" stroke-width="0.7"/>
<text x="106.9" y="507.9" font-size="9.2" font-weight="bold" text-anchor="end" fill="#111" transform="rotate(-90 106.9 507.9)" stroke="#111" stroke-width="0.25">Namalwa</text>
<line x1="114.35" y1="502.7" x2="114.35" y2="506.3" stroke="#111" stroke-width="1.0"/>
<rect x="111.7" y="464.58" width="5.3" height="38.12" fill="#111"/>
<line x1="114.35" y1="456.67" x2="114.35" y2="464.58" stroke="#444" stroke-width="0.7"/>
<line x1="112.75" y1="456.67" x2="115.95" y2="456.67" stroke="#444" stroke-width="0.7"/>
<text x="117.65" y="507.9" font-size="9.2" font-weight="bold" text-anchor="end" fill="#111" transform="rotate(-90 117.65 507.9)" stroke="#111" stroke-width="0.25">SU-DHL-6</text>
<line x1="125.1" y1="502.7" x2="125.1" y2="506.3" stroke="#111" stroke-width="1.0"/>
<rect x="122.45" y="444.81" width="5.3" height="57.89" fill="#111"/>
<line x1="125.1" y1="439.72" x2="125.1" y2="444.81" stroke="#444" stroke-width="0.7"/>
<line x1="123.5" y1="439.72" x2="126.7" y2="439.72" stroke="#444" stroke-width="0.7"/>
<text x="128.4" y="507.9" font-size="9.2" font-weight="bold" text-anchor="end" fill="#111" transform="rotate(-90 128.4 507.9)" stroke="#111" stroke-width="0.25">SU-DHL-4</text>
<line x1="135.85" y1="502.7" x2="135.85" y2="506.3" stroke="#111" stroke-width="1.0"/>
<rect x="133.2" y="487.17" width="5.3" height="15.53" fill="#111"/>
<text x="139.15" y="507.9" font-size="9.2" font-weight="bold" text-anchor="end" fill="#111" transform="rotate(-90 139.15 507.9)" stroke="#111" stroke-width="0.25">RL</text>
<line x1="146.6" y1="502.7" x2="146.6" y2="506.3" stroke="#111" stroke-width="1.0"/>
<rect x="143.95" y="485.19" width="5.3" height="17.51" fill="#111"/>
<line x1="146.6" y1="483.21" x2="146.6" y2="485.19" stroke="#444" stroke-width="0.7"/>
<line x1="145" y1="483.21" x2="148.2" y2="483.21" stroke="#444" stroke-width="0.7"/>
<text x="149.9" y="507.9" font-size="9.2" font-weight="bold" text-anchor="end" fill="#111" transform="rotate(-90 149.9 507.9)" stroke="#111" stroke-width="0.25">WSU-NHL</text>
<line x1="157.35" y1="502.7" x2="157.35" y2="506.3" stroke="#111" stroke-width="1.0"/>
<rect x="154.7" y="493.38" width="5.3" height="9.32" fill="#111"/>
<line x1="157.35" y1="484.63" x2="157.35" y2="493.38" stroke="#444" stroke-width="0.7"/>
<line x1="155.75" y1="484.63" x2="158.95" y2="484.63" stroke="#444" stroke-width="0.7"/>
<text x="160.65" y="507.9" font-size="9.2" font-weight="bold" text-anchor="end" fill="#111" transform="rotate(-90 160.65 507.9)" stroke="#111" stroke-width="0.25">Pfeiffer</text>
<line x1="168.1" y1="502.7" x2="168.1" y2="506.3" stroke="#111" stroke-width="1.0"/>
<rect x="165.45" y="476.15" width="5.3" height="26.55" fill="#111"/>
<line x1="168.1" y1="473.61" x2="168.1" y2="476.15" stroke="#444" stroke-width="0.7"/>
<line x1="166.5" y1="473.61" x2="169.7" y2="473.61" stroke="#444" stroke-width="0.7"/>
<text x="171.4" y="507.9" font-size="9.2" font-weight="bold" text-anchor="end" fill="#111" transform="rotate(-90 171.4 507.9)" stroke="#111" stroke-width="0.25">Farage</text>
<line x1="178.85" y1="502.7" x2="178.85" y2="506.3" stroke="#111" stroke-width="1.0"/>
<rect x="176.2" y="464.29" width="5.3" height="38.41" fill="#111"/>
<line x1="178.85" y1="460.34" x2="178.85" y2="464.29" stroke="#444" stroke-width="0.7"/>
<line x1="177.25" y1="460.34" x2="180.45" y2="460.34" stroke="#444" stroke-width="0.7"/>
<text x="182.15" y="507.9" font-size="9.2" font-weight="bold" text-anchor="end" fill="#111" transform="rotate(-90 182.15 507.9)" stroke="#111" stroke-width="0.25">DOHH2</text>
<line x1="189.6" y1="502.7" x2="189.6" y2="506.3" stroke="#111" stroke-width="1.0"/>
<rect x="186.95" y="501.01" width="5.3" height="1.69" fill="#111"/>
<text x="192.9" y="507.9" font-size="9.2" font-weight="bold" text-anchor="end" fill="#111" transform="rotate(-90 192.9 507.9)" stroke="#111" stroke-width="0.25">WSU-FSCCL</text>
<line x1="200.35" y1="502.7" x2="200.35" y2="506.3" stroke="#111" stroke-width="1.0"/>
<rect x="197.7" y="486.32" width="5.3" height="16.38" fill="#111"/>
<line x1="200.35" y1="480.11" x2="200.35" y2="486.32" stroke="#444" stroke-width="0.7"/>
<line x1="198.75" y1="480.11" x2="201.95" y2="480.11" stroke="#444" stroke-width="0.7"/>
<text x="203.65" y="507.9" font-size="9.2" font-weight="bold" text-anchor="end" fill="#111" transform="rotate(-90 203.65 507.9)" stroke="#111" stroke-width="0.25">Granta-519</text>
<line x1="211.1" y1="502.7" x2="211.1" y2="506.3" stroke="#111" stroke-width="1.0"/>
<rect x="208.45" y="478.13" width="5.3" height="24.57" fill="#111"/>
<line x1="211.1" y1="471.64" x2="211.1" y2="478.13" stroke="#444" stroke-width="0.7"/>
<line x1="209.5" y1="471.64" x2="212.7" y2="471.64" stroke="#444" stroke-width="0.7"/>
<text x="214.4" y="507.9" font-size="9.2" font-weight="bold" text-anchor="end" fill="#111" transform="rotate(-90 214.4 507.9)" stroke="#111" stroke-width="0.25">Rec1</text>
<line x1="221.85" y1="502.7" x2="221.85" y2="506.3" stroke="#111" stroke-width="1.0"/>
<rect x="219.2" y="500.72" width="5.3" height="1.98" fill="#111"/>
<text x="225.15" y="507.9" font-size="9.2" font-weight="bold" text-anchor="end" fill="#111" transform="rotate(-90 225.15 507.9)" stroke="#111" stroke-width="0.25">Jeko-1</text>
<line x1="232.6" y1="502.7" x2="232.6" y2="506.3" stroke="#111" stroke-width="1.0"/>
<rect x="229.95" y="493.38" width="5.3" height="9.32" fill="#111"/>
<line x1="232.6" y1="491.97" x2="232.6" y2="493.38" stroke="#444" stroke-width="0.7"/>
<line x1="231" y1="491.97" x2="234.2" y2="491.97" stroke="#444" stroke-width="0.7"/>
<text x="235.9" y="507.9" font-size="9.2" font-weight="bold" text-anchor="end" fill="#111" transform="rotate(-90 235.9 507.9)" stroke="#111" stroke-width="0.25">JVM-13</text>
<line x1="243.35" y1="502.7" x2="243.35" y2="506.3" stroke="#111" stroke-width="1.0"/>
<rect x="240.7" y="497.05" width="5.3" height="5.65" fill="#111"/>
<line x1="243.35" y1="495.36" x2="243.35" y2="497.05" stroke="#444" stroke-width="0.7"/>
<line x1="241.75" y1="495.36" x2="244.95" y2="495.36" stroke="#444" stroke-width="0.7"/>
<text x="246.65" y="507.9" font-size="9.2" font-weight="bold" text-anchor="end" fill="#111" transform="rotate(-90 246.65 507.9)" stroke="#111" stroke-width="0.25">JVM-2</text>
<line x1="254.1" y1="502.7" x2="254.1" y2="506.3" stroke="#111" stroke-width="1.0"/>
<rect x="251.45" y="488.02" width="5.3" height="14.68" fill="#111"/>
<line x1="254.1" y1="482.37" x2="254.1" y2="488.02" stroke="#444" stroke-width="0.7"/>
<line x1="252.5" y1="482.37" x2="255.7" y2="482.37" stroke="#444" stroke-width="0.7"/>
<text x="257.4" y="507.9" font-size="9.2" font-weight="bold" text-anchor="end" fill="#111" transform="rotate(-90 257.4 507.9)" stroke="#111" stroke-width="0.25">JVM-3</text>
<line x1="264.85" y1="502.7" x2="264.85" y2="506.3" stroke="#111" stroke-width="1.0"/>
<rect x="262.2" y="497.62" width="5.3" height="5.08" fill="#111"/>
<line x1="264.85" y1="496.49" x2="264.85" y2="497.62" stroke="#444" stroke-width="0.7"/>
<line x1="263.25" y1="496.49" x2="266.45" y2="496.49" stroke="#444" stroke-width="0.7"/>
<text x="268.15" y="507.9" font-size="9.2" font-weight="bold" text-anchor="end" fill="#111" transform="rotate(-90 268.15 507.9)" stroke="#111" stroke-width="0.25">Mec-1</text>
<line x1="275.6" y1="502.7" x2="275.6" y2="506.3" stroke="#111" stroke-width="1.0"/>
<rect x="272.95" y="487.45" width="5.3" height="15.25" fill="#111"/>
<line x1="275.6" y1="484.34" x2="275.6" y2="487.45" stroke="#444" stroke-width="0.7"/>
<line x1="274" y1="484.34" x2="277.2" y2="484.34" stroke="#444" stroke-width="0.7"/>
<text x="278.9" y="507.9" font-size="9.2" font-weight="bold" text-anchor="end" fill="#111" transform="rotate(-90 278.9 507.9)" stroke="#111" stroke-width="0.25">Mec-2</text>
<line x1="286.35" y1="502.7" x2="286.35" y2="506.3" stroke="#111" stroke-width="1.0"/>
<rect x="283.7" y="488.02" width="5.3" height="14.68" fill="#111"/>
<line x1="286.35" y1="482.37" x2="286.35" y2="488.02" stroke="#444" stroke-width="0.7"/>
<line x1="284.75" y1="482.37" x2="287.95" y2="482.37" stroke="#444" stroke-width="0.7"/>
<text x="289.65" y="507.9" font-size="9.2" font-weight="bold" text-anchor="end" fill="#111" transform="rotate(-90 289.65 507.9)" stroke="#111" stroke-width="0.25">EHEB</text>
<line x1="57" y1="566.3" x2="105" y2="566.3" stroke="#111" stroke-width="1.0"/>
<text x="85" y="576.3" font-size="9.2" font-weight="bold" text-anchor="middle" fill="#111" textLength="12.5" lengthAdjust="spacingAndGlyphs" stroke="#111" stroke-width="0.25">BL</text>
<line x1="111.3" y1="566.3" x2="167" y2="566.3" stroke="#111" stroke-width="1.0"/>
<text x="146.25" y="576.3" font-size="9.2" font-weight="bold" text-anchor="middle" fill="#111" textLength="32.5" lengthAdjust="spacingAndGlyphs" stroke="#111" stroke-width="0.25">DLBCL</text>
<line x1="173.7" y1="566.3" x2="191.5" y2="566.3" stroke="#111" stroke-width="1.0"/>
<text x="183.38" y="576.3" font-size="9.2" font-weight="bold" text-anchor="middle" fill="#111" textLength="9.25" lengthAdjust="spacingAndGlyphs" stroke="#111" stroke-width="0.25">FL</text>
<line x1="198.5" y1="566.3" x2="222.5" y2="566.3" stroke="#111" stroke-width="1.0"/>
<text x="211.88" y="576.3" font-size="9.2" font-weight="bold" text-anchor="middle" fill="#111" textLength="18.75" lengthAdjust="spacingAndGlyphs" stroke="#111" stroke-width="0.25">MCL</text>
<line x1="226.6" y1="566.3" x2="291" y2="566.3" stroke="#111" stroke-width="1.0"/>
<text x="255" y="576.3" font-size="9.2" font-weight="bold" text-anchor="middle" fill="#111" textLength="17.5" lengthAdjust="spacingAndGlyphs" stroke="#111" stroke-width="0.25">CLL</text>
<line x1="359.1" y1="386.3" x2="504.7" y2="386.3" stroke="#111" stroke-width="1.2"/>
<line x1="504.7" y1="385.7" x2="504.7" y2="532.7" stroke="#111" stroke-width="1.2"/>
<line x1="359.3" y1="385.7" x2="359.3" y2="532.7" stroke="#111" stroke-width="1.3"/>
<line x1="358.6" y1="532.1" x2="505.3" y2="532.1" stroke="#111" stroke-width="1.25"/>
<line x1="355.5" y1="532.1" x2="359.1" y2="532.1" stroke="#111" stroke-width="1.0"/>
<text x="355.1" y="534.9" font-size="7.8" font-weight="bold" text-anchor="end" fill="#111" stroke="#111" stroke-width="0.25">10</text>
<line x1="357.1" y1="510.15" x2="359.1" y2="510.15" stroke="#111" stroke-width="0.8"/>
<line x1="357.1" y1="497.32" x2="359.1" y2="497.32" stroke="#111" stroke-width="0.8"/>
<line x1="357.1" y1="488.21" x2="359.1" y2="488.21" stroke="#111" stroke-width="0.8"/>
<line x1="357.1" y1="481.15" x2="359.1" y2="481.15" stroke="#111" stroke-width="0.8"/>
<line x1="357.1" y1="475.37" x2="359.1" y2="475.37" stroke="#111" stroke-width="0.8"/>
<line x1="357.1" y1="470.49" x2="359.1" y2="470.49" stroke="#111" stroke-width="0.8"/>
<line x1="357.1" y1="466.26" x2="359.1" y2="466.26" stroke="#111" stroke-width="0.8"/>
<line x1="357.1" y1="462.54" x2="359.1" y2="462.54" stroke="#111" stroke-width="0.8"/>
<line x1="355.5" y1="459.2" x2="359.1" y2="459.2" stroke="#111" stroke-width="1.0"/>
<text x="355.1" y="462" font-size="7.8" font-weight="bold" text-anchor="end" fill="#111" stroke="#111" stroke-width="0.25">100</text>
<line x1="357.1" y1="437.25" x2="359.1" y2="437.25" stroke="#111" stroke-width="0.8"/>
<line x1="357.1" y1="424.42" x2="359.1" y2="424.42" stroke="#111" stroke-width="0.8"/>
<line x1="357.1" y1="415.31" x2="359.1" y2="415.31" stroke="#111" stroke-width="0.8"/>
<line x1="357.1" y1="408.25" x2="359.1" y2="408.25" stroke="#111" stroke-width="0.8"/>
<line x1="357.1" y1="402.47" x2="359.1" y2="402.47" stroke="#111" stroke-width="0.8"/>
<line x1="357.1" y1="397.59" x2="359.1" y2="397.59" stroke="#111" stroke-width="0.8"/>
<line x1="357.1" y1="393.36" x2="359.1" y2="393.36" stroke="#111" stroke-width="0.8"/>
<line x1="357.1" y1="389.64" x2="359.1" y2="389.64" stroke="#111" stroke-width="0.8"/>
<line x1="355.5" y1="386.3" x2="359.1" y2="386.3" stroke="#111" stroke-width="1.0"/>
<text x="355.1" y="389.1" font-size="7.8" font-weight="bold" text-anchor="end" fill="#111" stroke="#111" stroke-width="0.25">1000</text>
<line x1="359.1" y1="532.1" x2="359.1" y2="535.3" stroke="#111" stroke-width="1.0"/>
<text x="359.1" y="543.9" font-size="7.8" font-weight="bold" text-anchor="middle" fill="#111" stroke="#111" stroke-width="0.25">0</text>
<line x1="395.5" y1="532.1" x2="395.5" y2="535.3" stroke="#111" stroke-width="1.0"/>
<text x="395.5" y="543.9" font-size="7.8" font-weight="bold" text-anchor="middle" fill="#111" stroke="#111" stroke-width="0.25">100,000</text>
<line x1="431.9" y1="532.1" x2="431.9" y2="535.3" stroke="#111" stroke-width="1.0"/>
<text x="431.9" y="543.9" font-size="7.8" font-weight="bold" text-anchor="middle" fill="#111" stroke="#111" stroke-width="0.25">200,000</text>
<line x1="468.3" y1="532.1" x2="468.3" y2="535.3" stroke="#111" stroke-width="1.0"/>
<text x="468.3" y="543.9" font-size="7.8" font-weight="bold" text-anchor="middle" fill="#111" stroke="#111" stroke-width="0.25">300,000</text>
<line x1="504.7" y1="532.1" x2="504.7" y2="535.3" stroke="#111" stroke-width="1.0"/>
<text x="504.7" y="543.9" font-size="7.8" font-weight="bold" text-anchor="middle" fill="#111" stroke="#111" stroke-width="0.25">400,000</text>
<text x="431" y="560.8" font-size="8.5" font-weight="bold" text-anchor="middle" fill="#111" textLength="100.4" lengthAdjust="spacingAndGlyphs" stroke="#111" stroke-width="0.25">CD37 Expression in ABC</text>
<text x="0" y="0" font-size="9" font-weight="bold" fill="#111" stroke="#111" stroke-width="0.25" text-anchor="middle" textLength="177.6" lengthAdjust="spacingAndGlyphs" transform="translate(331.9 463.8) rotate(-90)">IMGN529 <tspan font-style="italic">in vitro</tspan> cytotoxicity (EC<tspan font-size="6" dx="0.6" dy="1.6">50</tspan><tspan dy="-1.6"> in pM)</tspan></text>
<text x="461.9" y="403.0" font-size="8.6" fill="#111" stroke="#111" stroke-width="0.12">R<tspan font-size="5.5" dy="-3.6">2</tspan><tspan dy="3.6">=0.18</tspan></text>
<text x="461.9" y="413.2" font-size="8.6" fill="#111" stroke="#111" stroke-width="0.12" textLength="31.2" lengthAdjust="spacingAndGlyphs">P=0.044</text>
<line x1="360.6" y1="457.3" x2="490.2" y2="525.8" stroke="#111" stroke-width="1.1"/>
<path d="M358.6 401.58L363.4 401.58L361 405.9Z" fill="#fff" stroke="#111" stroke-width="1.35" stroke-linejoin="miter"/>
<path d="M365.9 400.18L370.7 400.18L368.3 404.5Z" fill="#fff" stroke="#111" stroke-width="1.35" stroke-linejoin="miter"/>
<path d="M359.1 434.78L363.9 434.78L361.5 439.1Z" fill="#fff" stroke="#111" stroke-width="1.35" stroke-linejoin="miter"/>
<path d="M368.4 431.58L373.2 431.58L370.8 435.9Z" fill="#fff" stroke="#111" stroke-width="1.35" stroke-linejoin="miter"/>
<path d="M375.9 428.08L380.7 428.08L378.3 432.4Z" fill="#fff" stroke="#111" stroke-width="1.35" stroke-linejoin="miter"/>
<path d="M375.5 442.48L380.3 442.48L377.9 446.8Z" fill="#fff" stroke="#111" stroke-width="1.35" stroke-linejoin="miter"/>
<path d="M363.9 449.28L368.7 449.28L366.3 453.6Z" fill="#fff" stroke="#111" stroke-width="1.35" stroke-linejoin="miter"/>
<path d="M378.9 455.38L383.7 455.38L381.3 459.7Z" fill="#fff" stroke="#111" stroke-width="1.35" stroke-linejoin="miter"/>
<path d="M395.3 447.28L400.1 447.28L397.7 451.6Z" fill="#fff" stroke="#111" stroke-width="1.35" stroke-linejoin="miter"/>
<path d="M401.1 454.08L405.9 454.08L403.5 458.4Z" fill="#fff" stroke="#111" stroke-width="1.35" stroke-linejoin="miter"/>
<path d="M387.8 470.28L392.6 470.28L390.2 474.6Z" fill="#fff" stroke="#111" stroke-width="1.35" stroke-linejoin="miter"/>
<path d="M362.6 485.98L367.4 485.98L365 490.3Z" fill="#fff" stroke="#111" stroke-width="1.35" stroke-linejoin="miter"/>
<path d="M366.8 492.68L371.6 492.68L369.2 497Z" fill="#fff" stroke="#111" stroke-width="1.35" stroke-linejoin="miter"/>
<path d="M385.1 489.38L389.9 489.38L387.5 493.7Z" fill="#fff" stroke="#111" stroke-width="1.35" stroke-linejoin="miter"/>
<path d="M390.9 486.88L395.7 486.88L393.3 491.2Z" fill="#fff" stroke="#111" stroke-width="1.35" stroke-linejoin="miter"/>
<path d="M430.5 494.18L435.3 494.18L432.9 498.5Z" fill="#fff" stroke="#111" stroke-width="1.35" stroke-linejoin="miter"/>
<path d="M405.3 503.68L410.1 503.68L407.7 508Z" fill="#fff" stroke="#111" stroke-width="1.35" stroke-linejoin="miter"/>
<path d="M420.9 509.48L425.7 509.48L423.3 513.8Z" fill="#fff" stroke="#111" stroke-width="1.35" stroke-linejoin="miter"/>
<path d="M375.5 508.48L380.3 508.48L377.9 512.8Z" fill="#fff" stroke="#111" stroke-width="1.35" stroke-linejoin="miter"/>
<path d="M376.2 508.88L381 508.88L378.6 513.2Z" fill="#fff" stroke="#111" stroke-width="1.35" stroke-linejoin="miter"/>
<path d="M377.4 519.58L382.2 519.58L379.8 523.9Z" fill="#fff" stroke="#111" stroke-width="1.35" stroke-linejoin="miter"/>
<path d="M406.3 517.08L411.1 517.08L408.7 521.4Z" fill="#fff" stroke="#111" stroke-width="1.35" stroke-linejoin="miter"/>
<path d="M487.8 489.58L492.6 489.58L490.2 493.9Z" fill="#fff" stroke="#111" stroke-width="1.35" stroke-linejoin="miter"/>
</svg>
</body></html>
